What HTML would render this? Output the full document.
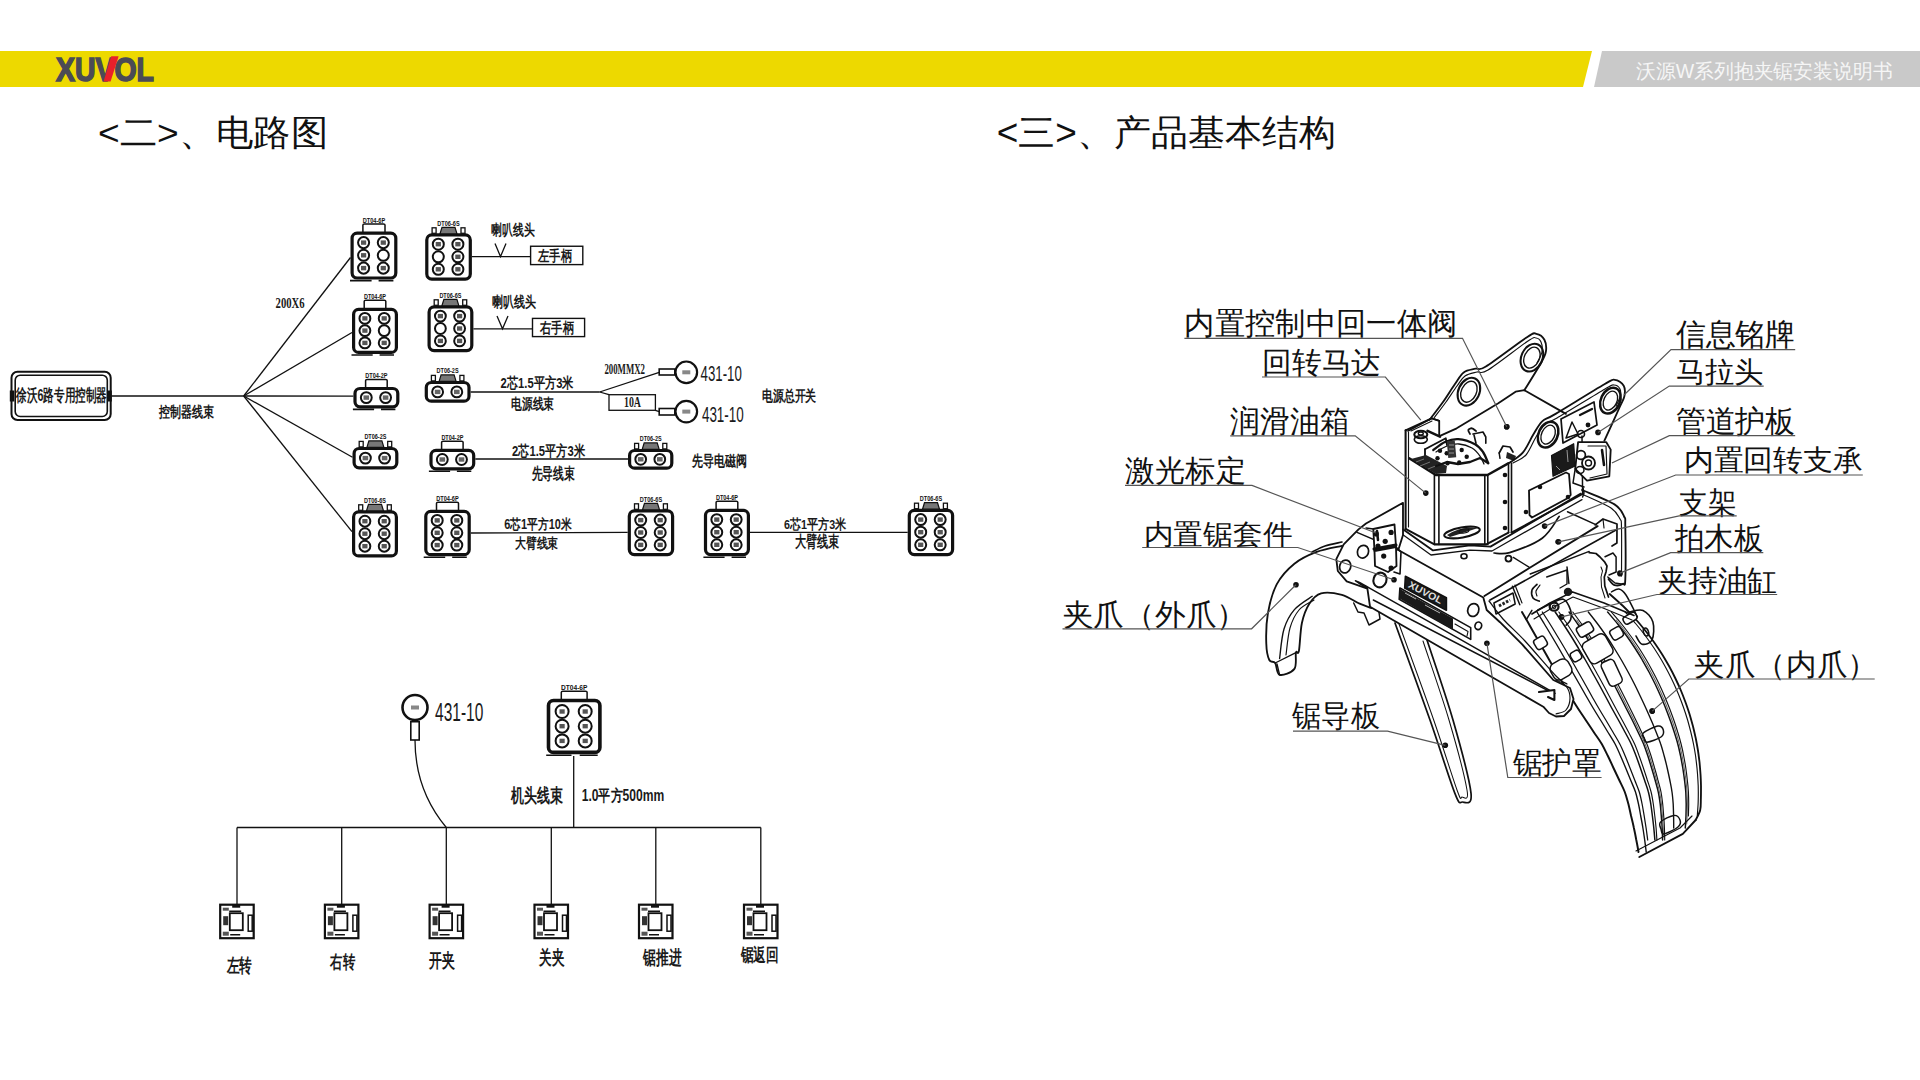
<!DOCTYPE html>
<html><head><meta charset="utf-8">
<style>
html,body{margin:0;padding:0;background:#fff;}
body{width:1920px;height:1080px;overflow:hidden;position:relative;font-family:"Liberation Sans",sans-serif;}
svg{position:absolute;left:0;top:0;}
.d{font-family:"Liberation Sans",sans-serif;font-weight:bold;fill:#1a1a1a;}
.lab{font-family:"Liberation Sans",sans-serif;font-weight:bold;fill:#111;}
.s{font-family:"Liberation Serif",serif;font-weight:bold;fill:#1a1a1a;}
.m{font-family:"Liberation Sans",sans-serif;fill:#1a1a1a;}
.h{font-family:"Liberation Sans",sans-serif;fill:#111;font-weight:350;}
.w{font-family:"Liberation Sans",sans-serif;fill:#f6f6f6;font-weight:300;}
.l{font-family:"Liberation Sans",sans-serif;fill:#111;font-weight:300;}
</style></head><body>
<svg width="1920" height="1080" viewBox="0 0 1920 1080">

<path d="M0 51 H1592 L1583 87 H0 Z" fill="#EDD900"/>
<path d="M1602 51 H1920 V87 H1594 Z" fill="#C9C9C9"/>
<text x="56" y="80.6" font-family="Liberation Sans" font-weight="bold" font-size="34" fill="#4b4b55" stroke="#4b4b55" stroke-width="1.6" textLength="98" lengthAdjust="spacingAndGlyphs">XUVOL</text>
<path d="M111.2 56.2 L118.6 56.2 L110.6 81.4 L103.6 81.4 Z" fill="#E8202A"/>
<text class="w" x="1636.0" y="78.1" font-size="19.7" textLength="256.5" lengthAdjust="spacingAndGlyphs" >沃源W系列抱夹锯安装说明书</text>
<text class="h" x="98.0" y="145.4" font-size="35.8" textLength="230.0" lengthAdjust="spacingAndGlyphs" >&lt;二&gt;、电路图</text>
<text class="h" x="996.8" y="145.3" font-size="36.0" textLength="338.7" lengthAdjust="spacingAndGlyphs" >&lt;三&gt;、产品基本结构</text>
<rect x="11.5" y="371.8" width="99.2" height="48.2" rx="6" fill="#fff" stroke="#111" stroke-width="2"/>
<rect x="15.2" y="375.2" width="92.1" height="41.3" rx="5" fill="#fff" stroke="#111" stroke-width="1.6"/>
<rect x="9.8" y="390.5" width="4.5" height="11" fill="#111"/><rect x="107.3" y="390.5" width="4.5" height="11" fill="#111"/>
<text class="d" x="16.2" y="401.0" font-size="17.0" textLength="90.8" lengthAdjust="spacingAndGlyphs" >徐沃6路专用控制器</text>
<path d="M111.5 396.0 L243.7 396.0" fill="none" stroke="#111" stroke-width="1.3"/>
<text class="d" x="159.0" y="417.1" font-size="15.1" textLength="55.0" lengthAdjust="spacingAndGlyphs" >控制器线束</text>
<path d="M243.7 396.0 L350.5 257.5" fill="none" stroke="#111" stroke-width="1.3"/>
<path d="M243.7 396.0 L352.0 332.5" fill="none" stroke="#111" stroke-width="1.3"/>
<path d="M243.7 396.0 L353.4 396.2" fill="none" stroke="#111" stroke-width="1.3"/>
<path d="M243.7 396.0 L352.5 457.2" fill="none" stroke="#111" stroke-width="1.3"/>
<path d="M243.7 396.0 L352.0 531.7" fill="none" stroke="#111" stroke-width="1.3"/>
<text class="s" x="275.6" y="308.2" font-size="14.0" textLength="29.1" lengthAdjust="spacingAndGlyphs" >200X6</text>
<rect x="352.1" y="233.1" width="43.7" height="44.9" rx="5" fill="#fff" stroke="#111" stroke-width="3.2"/>
<path d="M362.9 232.0 V225.0 Q362.9 224.0 364.4 224.0 H383.5 Q385.0 224.0 385.0 225.0 V232.0" fill="none" stroke="#111" stroke-width="1.5"/>
<path d="M350.0 280.6 H371.6 M378.6 280.6 H393.4" stroke="#111" stroke-width="1.6"/>
<text class="lab" x="373.9" y="222.5" text-anchor="middle" font-size="6.8" textLength="22.5" lengthAdjust="spacingAndGlyphs">DT04-6P</text>
<circle cx="363.6" cy="242.6" r="5.53" fill="#fff" stroke="#111" stroke-width="2"/>
<rect x="361.0" y="240.4" width="5.2" height="4.4" fill="#555"/>
<circle cx="383.3" cy="242.6" r="5.53" fill="#fff" stroke="#111" stroke-width="2"/>
<rect x="380.7" y="240.4" width="5.2" height="4.4" fill="#555"/>
<circle cx="363.6" cy="255.3" r="5.53" fill="#fff" stroke="#111" stroke-width="2"/>
<rect x="361.0" y="253.1" width="5.2" height="4.4" fill="#555"/>
<circle cx="383.3" cy="255.3" r="5.53" fill="#fff" stroke="#111" stroke-width="2"/>
<circle cx="363.6" cy="268.1" r="5.53" fill="#fff" stroke="#111" stroke-width="2"/>
<rect x="361.0" y="265.9" width="5.2" height="4.4" fill="#555"/>
<circle cx="383.3" cy="268.1" r="5.53" fill="#fff" stroke="#111" stroke-width="2"/>
<rect x="380.7" y="265.9" width="5.2" height="4.4" fill="#555"/>
<rect x="426.8" y="234.9" width="43.5" height="44.2" rx="5" fill="#fff" stroke="#111" stroke-width="3.2"/>
<rect x="432.1" y="227.8" width="4" height="5.5" fill="#fff" stroke="#111" stroke-width="1.3"/>
<rect x="461.0" y="227.8" width="4" height="5.5" fill="#fff" stroke="#111" stroke-width="1.3"/>
<path d="M440.0 233.8 L442.0 227.3 H455.0 L457.0 233.8 Z" fill="#777" stroke="#111" stroke-width="1.2"/>
<text class="lab" x="448.5" y="225.8" text-anchor="middle" font-size="6.8" textLength="22.4" lengthAdjust="spacingAndGlyphs">DT06-6S</text>
<circle cx="438.3" cy="244.2" r="5.51" fill="#fff" stroke="#111" stroke-width="2"/>
<rect x="435.7" y="242.0" width="5.2" height="4.4" fill="#555"/>
<circle cx="457.9" cy="244.2" r="5.51" fill="#fff" stroke="#111" stroke-width="2"/>
<rect x="455.3" y="242.0" width="5.2" height="4.4" fill="#555"/>
<circle cx="438.3" cy="256.8" r="5.51" fill="#fff" stroke="#111" stroke-width="2"/>
<circle cx="457.9" cy="256.8" r="5.51" fill="#fff" stroke="#111" stroke-width="2"/>
<rect x="455.3" y="254.6" width="5.2" height="4.4" fill="#555"/>
<circle cx="438.3" cy="269.3" r="5.51" fill="#fff" stroke="#111" stroke-width="2"/>
<rect x="435.7" y="267.1" width="5.2" height="4.4" fill="#555"/>
<circle cx="457.9" cy="269.3" r="5.51" fill="#fff" stroke="#111" stroke-width="2"/>
<rect x="455.3" y="267.1" width="5.2" height="4.4" fill="#555"/>
<rect x="353.6" y="309.4" width="42.8" height="43.0" rx="5" fill="#fff" stroke="#111" stroke-width="3.2"/>
<path d="M364.2 308.2 V301.2 Q364.2 300.2 365.7 300.2 H384.3 Q385.8 300.2 385.8 301.2 V308.2" fill="none" stroke="#111" stroke-width="1.5"/>
<path d="M351.5 355.0 H372.7 M379.6 355.0 H394.0" stroke="#111" stroke-width="1.6"/>
<text class="lab" x="375.0" y="298.8" text-anchor="middle" font-size="6.7" textLength="22.1" lengthAdjust="spacingAndGlyphs">DT04-6P</text>
<circle cx="364.9" cy="318.4" r="5.43" fill="#fff" stroke="#111" stroke-width="2"/>
<rect x="362.3" y="316.2" width="5.2" height="4.4" fill="#555"/>
<circle cx="384.2" cy="318.4" r="5.43" fill="#fff" stroke="#111" stroke-width="2"/>
<rect x="381.6" y="316.2" width="5.2" height="4.4" fill="#555"/>
<circle cx="364.9" cy="330.6" r="5.43" fill="#fff" stroke="#111" stroke-width="2"/>
<rect x="362.3" y="328.4" width="5.2" height="4.4" fill="#555"/>
<circle cx="384.2" cy="330.6" r="5.43" fill="#fff" stroke="#111" stroke-width="2"/>
<circle cx="364.9" cy="342.9" r="5.43" fill="#fff" stroke="#111" stroke-width="2"/>
<rect x="362.3" y="340.7" width="5.2" height="4.4" fill="#555"/>
<circle cx="384.2" cy="342.9" r="5.43" fill="#fff" stroke="#111" stroke-width="2"/>
<rect x="381.6" y="340.7" width="5.2" height="4.4" fill="#555"/>
<rect x="429.1" y="306.9" width="42.7" height="43.7" rx="5" fill="#fff" stroke="#111" stroke-width="3.2"/>
<rect x="434.2" y="299.8" width="4" height="5.5" fill="#fff" stroke="#111" stroke-width="1.3"/>
<rect x="462.7" y="299.8" width="4" height="5.5" fill="#fff" stroke="#111" stroke-width="1.3"/>
<path d="M441.9 305.8 L443.9 299.3 H456.9 L458.9 305.8 Z" fill="#777" stroke="#111" stroke-width="1.2"/>
<text class="lab" x="450.4" y="297.8" text-anchor="middle" font-size="6.7" textLength="22.0" lengthAdjust="spacingAndGlyphs">DT06-6S</text>
<circle cx="440.4" cy="316.1" r="5.42" fill="#fff" stroke="#111" stroke-width="2"/>
<rect x="437.8" y="313.9" width="5.2" height="4.4" fill="#555"/>
<circle cx="459.6" cy="316.1" r="5.42" fill="#fff" stroke="#111" stroke-width="2"/>
<rect x="457.0" y="313.9" width="5.2" height="4.4" fill="#555"/>
<circle cx="440.4" cy="328.5" r="5.42" fill="#fff" stroke="#111" stroke-width="2"/>
<circle cx="459.6" cy="328.5" r="5.42" fill="#fff" stroke="#111" stroke-width="2"/>
<rect x="457.0" y="326.3" width="5.2" height="4.4" fill="#555"/>
<circle cx="440.4" cy="340.9" r="5.42" fill="#fff" stroke="#111" stroke-width="2"/>
<rect x="437.8" y="338.7" width="5.2" height="4.4" fill="#555"/>
<circle cx="459.6" cy="340.9" r="5.42" fill="#fff" stroke="#111" stroke-width="2"/>
<rect x="457.0" y="338.7" width="5.2" height="4.4" fill="#555"/>
<rect x="355.0" y="388.5" width="42.8" height="18.3" rx="5" fill="#fff" stroke="#111" stroke-width="3.2"/>
<path d="M365.6 387.4 V380.4 Q365.6 379.4 367.1 379.4 H385.7 Q387.2 379.4 387.2 380.4 V387.4" fill="none" stroke="#111" stroke-width="1.5"/>
<path d="M352.9 409.4 H374.1 M381.0 409.4 H395.4" stroke="#111" stroke-width="1.6"/>
<text class="lab" x="376.4" y="377.9" text-anchor="middle" font-size="6.7" textLength="22.1" lengthAdjust="spacingAndGlyphs">DT04-2P</text>
<circle cx="366.3" cy="397.6" r="5.43" fill="#fff" stroke="#111" stroke-width="2"/>
<rect x="363.5" y="395.4" width="5.6" height="4.4" fill="#666"/>
<circle cx="385.6" cy="397.6" r="5.43" fill="#fff" stroke="#111" stroke-width="2"/>
<rect x="382.8" y="395.4" width="5.6" height="4.4" fill="#666"/>
<rect x="426.3" y="382.5" width="42.7" height="18.7" rx="5" fill="#fff" stroke="#111" stroke-width="3.2"/>
<rect x="431.4" y="375.4" width="4" height="5.5" fill="#fff" stroke="#111" stroke-width="1.3"/>
<rect x="459.9" y="375.4" width="4" height="5.5" fill="#fff" stroke="#111" stroke-width="1.3"/>
<path d="M439.1 381.4 L441.1 374.9 H454.1 L456.1 381.4 Z" fill="#777" stroke="#111" stroke-width="1.2"/>
<text class="lab" x="447.6" y="373.4" text-anchor="middle" font-size="6.7" textLength="22.0" lengthAdjust="spacingAndGlyphs">DT06-2S</text>
<circle cx="437.6" cy="391.9" r="5.42" fill="#fff" stroke="#111" stroke-width="2"/>
<rect x="434.8" y="389.7" width="5.6" height="4.4" fill="#666"/>
<circle cx="456.8" cy="391.9" r="5.42" fill="#fff" stroke="#111" stroke-width="2"/>
<rect x="454.0" y="389.7" width="5.6" height="4.4" fill="#666"/>
<rect x="354.1" y="448.5" width="42.7" height="19.3" rx="5" fill="#fff" stroke="#111" stroke-width="3.2"/>
<rect x="359.2" y="441.4" width="4" height="5.5" fill="#fff" stroke="#111" stroke-width="1.3"/>
<rect x="387.7" y="441.4" width="4" height="5.5" fill="#fff" stroke="#111" stroke-width="1.3"/>
<path d="M366.9 447.4 L368.9 440.9 H381.9 L383.9 447.4 Z" fill="#777" stroke="#111" stroke-width="1.2"/>
<text class="lab" x="375.4" y="439.4" text-anchor="middle" font-size="6.7" textLength="22.0" lengthAdjust="spacingAndGlyphs">DT06-2S</text>
<circle cx="365.4" cy="458.1" r="5.42" fill="#fff" stroke="#111" stroke-width="2"/>
<rect x="362.6" y="455.9" width="5.6" height="4.4" fill="#666"/>
<circle cx="384.6" cy="458.1" r="5.42" fill="#fff" stroke="#111" stroke-width="2"/>
<rect x="381.8" y="455.9" width="5.6" height="4.4" fill="#666"/>
<rect x="431.0" y="450.4" width="42.7" height="18.4" rx="5" fill="#fff" stroke="#111" stroke-width="3.2"/>
<path d="M441.6 449.2 V442.2 Q441.6 441.2 443.1 441.2 H461.6 Q463.1 441.2 463.1 442.2 V449.2" fill="none" stroke="#111" stroke-width="1.5"/>
<path d="M428.9 471.3 H450.1 M456.9 471.3 H471.3" stroke="#111" stroke-width="1.6"/>
<text class="lab" x="452.4" y="439.8" text-anchor="middle" font-size="6.7" textLength="22.0" lengthAdjust="spacingAndGlyphs">DT04-2P</text>
<circle cx="442.3" cy="459.5" r="5.42" fill="#fff" stroke="#111" stroke-width="2"/>
<rect x="439.5" y="457.3" width="5.6" height="4.4" fill="#666"/>
<circle cx="461.5" cy="459.5" r="5.42" fill="#fff" stroke="#111" stroke-width="2"/>
<rect x="458.7" y="457.3" width="5.6" height="4.4" fill="#666"/>
<rect x="629.6" y="450.5" width="42.2" height="17.7" rx="5" fill="#fff" stroke="#111" stroke-width="3.2"/>
<rect x="634.6" y="443.4" width="4" height="5.5" fill="#fff" stroke="#111" stroke-width="1.3"/>
<rect x="662.8" y="443.4" width="4" height="5.5" fill="#fff" stroke="#111" stroke-width="1.3"/>
<path d="M642.2 449.4 L644.2 442.9 H657.2 L659.2 449.4 Z" fill="#777" stroke="#111" stroke-width="1.2"/>
<text class="lab" x="650.7" y="441.4" text-anchor="middle" font-size="6.6" textLength="21.8" lengthAdjust="spacingAndGlyphs">DT06-2S</text>
<circle cx="640.7" cy="459.3" r="5.36" fill="#fff" stroke="#111" stroke-width="2"/>
<rect x="637.9" y="457.1" width="5.6" height="4.4" fill="#666"/>
<circle cx="659.8" cy="459.3" r="5.36" fill="#fff" stroke="#111" stroke-width="2"/>
<rect x="657.0" y="457.1" width="5.6" height="4.4" fill="#666"/>
<rect x="353.6" y="511.9" width="42.8" height="44.0" rx="5" fill="#fff" stroke="#111" stroke-width="3.2"/>
<rect x="358.7" y="504.8" width="4" height="5.5" fill="#fff" stroke="#111" stroke-width="1.3"/>
<rect x="387.3" y="504.8" width="4" height="5.5" fill="#fff" stroke="#111" stroke-width="1.3"/>
<path d="M366.5 510.8 L368.5 504.3 H381.5 L383.5 510.8 Z" fill="#777" stroke="#111" stroke-width="1.2"/>
<text class="lab" x="375.0" y="502.8" text-anchor="middle" font-size="6.7" textLength="22.1" lengthAdjust="spacingAndGlyphs">DT06-6S</text>
<circle cx="364.9" cy="521.2" r="5.43" fill="#fff" stroke="#111" stroke-width="2"/>
<rect x="362.3" y="519.0" width="5.2" height="4.4" fill="#555"/>
<circle cx="384.2" cy="521.2" r="5.43" fill="#fff" stroke="#111" stroke-width="2"/>
<rect x="381.6" y="519.0" width="5.2" height="4.4" fill="#555"/>
<circle cx="364.9" cy="533.7" r="5.43" fill="#fff" stroke="#111" stroke-width="2"/>
<rect x="362.3" y="531.5" width="5.2" height="4.4" fill="#555"/>
<circle cx="384.2" cy="533.7" r="5.43" fill="#fff" stroke="#111" stroke-width="2"/>
<rect x="381.6" y="531.5" width="5.2" height="4.4" fill="#555"/>
<circle cx="364.9" cy="546.2" r="5.43" fill="#fff" stroke="#111" stroke-width="2"/>
<rect x="362.3" y="544.0" width="5.2" height="4.4" fill="#555"/>
<circle cx="384.2" cy="546.2" r="5.43" fill="#fff" stroke="#111" stroke-width="2"/>
<rect x="381.6" y="544.0" width="5.2" height="4.4" fill="#555"/>
<rect x="425.8" y="511.3" width="43.4" height="43.4" rx="5" fill="#fff" stroke="#111" stroke-width="3.2"/>
<path d="M436.5 510.2 V503.2 Q436.5 502.2 438.0 502.2 H457.0 Q458.5 502.2 458.5 503.2 V510.2" fill="none" stroke="#111" stroke-width="1.5"/>
<path d="M423.7 557.3 H445.2 M452.2 557.3 H466.8" stroke="#111" stroke-width="1.6"/>
<text class="lab" x="447.5" y="500.7" text-anchor="middle" font-size="6.8" textLength="22.4" lengthAdjust="spacingAndGlyphs">DT04-6P</text>
<circle cx="437.2" cy="520.4" r="5.50" fill="#fff" stroke="#111" stroke-width="2"/>
<rect x="434.6" y="518.2" width="5.2" height="4.4" fill="#555"/>
<circle cx="456.8" cy="520.4" r="5.50" fill="#fff" stroke="#111" stroke-width="2"/>
<rect x="454.2" y="518.2" width="5.2" height="4.4" fill="#555"/>
<circle cx="437.2" cy="532.8" r="5.50" fill="#fff" stroke="#111" stroke-width="2"/>
<rect x="434.6" y="530.6" width="5.2" height="4.4" fill="#555"/>
<circle cx="456.8" cy="532.8" r="5.50" fill="#fff" stroke="#111" stroke-width="2"/>
<rect x="454.2" y="530.6" width="5.2" height="4.4" fill="#555"/>
<circle cx="437.2" cy="545.1" r="5.50" fill="#fff" stroke="#111" stroke-width="2"/>
<rect x="434.6" y="542.9" width="5.2" height="4.4" fill="#555"/>
<circle cx="456.8" cy="545.1" r="5.50" fill="#fff" stroke="#111" stroke-width="2"/>
<rect x="454.2" y="542.9" width="5.2" height="4.4" fill="#555"/>
<rect x="629.3" y="510.9" width="43.3" height="43.7" rx="5" fill="#fff" stroke="#111" stroke-width="3.2"/>
<rect x="634.5" y="503.8" width="4" height="5.5" fill="#fff" stroke="#111" stroke-width="1.3"/>
<rect x="663.4" y="503.8" width="4" height="5.5" fill="#fff" stroke="#111" stroke-width="1.3"/>
<path d="M642.5 509.8 L644.5 503.3 H657.5 L659.5 509.8 Z" fill="#777" stroke="#111" stroke-width="1.2"/>
<text class="lab" x="651.0" y="501.8" text-anchor="middle" font-size="6.7" textLength="22.3" lengthAdjust="spacingAndGlyphs">DT06-6S</text>
<circle cx="640.7" cy="520.1" r="5.49" fill="#fff" stroke="#111" stroke-width="2"/>
<rect x="638.1" y="517.9" width="5.2" height="4.4" fill="#555"/>
<circle cx="660.2" cy="520.1" r="5.49" fill="#fff" stroke="#111" stroke-width="2"/>
<rect x="657.6" y="517.9" width="5.2" height="4.4" fill="#555"/>
<circle cx="640.7" cy="532.5" r="5.49" fill="#fff" stroke="#111" stroke-width="2"/>
<rect x="638.1" y="530.3" width="5.2" height="4.4" fill="#555"/>
<circle cx="660.2" cy="532.5" r="5.49" fill="#fff" stroke="#111" stroke-width="2"/>
<rect x="657.6" y="530.3" width="5.2" height="4.4" fill="#555"/>
<circle cx="640.7" cy="544.9" r="5.49" fill="#fff" stroke="#111" stroke-width="2"/>
<rect x="638.1" y="542.7" width="5.2" height="4.4" fill="#555"/>
<circle cx="660.2" cy="544.9" r="5.49" fill="#fff" stroke="#111" stroke-width="2"/>
<rect x="657.6" y="542.7" width="5.2" height="4.4" fill="#555"/>
<rect x="705.5" y="510.3" width="42.9" height="44.3" rx="5" fill="#fff" stroke="#111" stroke-width="3.2"/>
<path d="M716.1 509.2 V502.2 Q716.1 501.2 717.6 501.2 H736.3 Q737.8 501.2 737.8 502.2 V509.2" fill="none" stroke="#111" stroke-width="1.5"/>
<path d="M703.4 557.2 H724.6 M731.6 557.2 H746.0" stroke="#111" stroke-width="1.6"/>
<text class="lab" x="727.0" y="499.7" text-anchor="middle" font-size="6.7" textLength="22.1" lengthAdjust="spacingAndGlyphs">DT04-6P</text>
<circle cx="716.8" cy="519.6" r="5.44" fill="#fff" stroke="#111" stroke-width="2"/>
<rect x="714.2" y="517.4" width="5.2" height="4.4" fill="#555"/>
<circle cx="736.2" cy="519.6" r="5.44" fill="#fff" stroke="#111" stroke-width="2"/>
<rect x="733.6" y="517.4" width="5.2" height="4.4" fill="#555"/>
<circle cx="716.8" cy="532.2" r="5.44" fill="#fff" stroke="#111" stroke-width="2"/>
<rect x="714.2" y="530.0" width="5.2" height="4.4" fill="#555"/>
<circle cx="736.2" cy="532.2" r="5.44" fill="#fff" stroke="#111" stroke-width="2"/>
<rect x="733.6" y="530.0" width="5.2" height="4.4" fill="#555"/>
<circle cx="716.8" cy="544.8" r="5.44" fill="#fff" stroke="#111" stroke-width="2"/>
<rect x="714.2" y="542.6" width="5.2" height="4.4" fill="#555"/>
<circle cx="736.2" cy="544.8" r="5.44" fill="#fff" stroke="#111" stroke-width="2"/>
<rect x="733.6" y="542.6" width="5.2" height="4.4" fill="#555"/>
<rect x="909.3" y="510.3" width="43.3" height="44.3" rx="5" fill="#fff" stroke="#111" stroke-width="3.2"/>
<rect x="914.5" y="503.2" width="4" height="5.5" fill="#fff" stroke="#111" stroke-width="1.3"/>
<rect x="943.4" y="503.2" width="4" height="5.5" fill="#fff" stroke="#111" stroke-width="1.3"/>
<path d="M922.5 509.2 L924.5 502.7 H937.5 L939.5 509.2 Z" fill="#777" stroke="#111" stroke-width="1.2"/>
<text class="lab" x="931.0" y="501.2" text-anchor="middle" font-size="6.7" textLength="22.3" lengthAdjust="spacingAndGlyphs">DT06-6S</text>
<circle cx="920.7" cy="519.6" r="5.49" fill="#fff" stroke="#111" stroke-width="2"/>
<rect x="918.1" y="517.4" width="5.2" height="4.4" fill="#555"/>
<circle cx="940.2" cy="519.6" r="5.49" fill="#fff" stroke="#111" stroke-width="2"/>
<rect x="937.6" y="517.4" width="5.2" height="4.4" fill="#555"/>
<circle cx="920.7" cy="532.2" r="5.49" fill="#fff" stroke="#111" stroke-width="2"/>
<rect x="918.1" y="530.0" width="5.2" height="4.4" fill="#555"/>
<circle cx="940.2" cy="532.2" r="5.49" fill="#fff" stroke="#111" stroke-width="2"/>
<rect x="937.6" y="530.0" width="5.2" height="4.4" fill="#555"/>
<circle cx="920.7" cy="544.8" r="5.49" fill="#fff" stroke="#111" stroke-width="2"/>
<rect x="918.1" y="542.6" width="5.2" height="4.4" fill="#555"/>
<circle cx="940.2" cy="544.8" r="5.49" fill="#fff" stroke="#111" stroke-width="2"/>
<rect x="937.6" y="542.6" width="5.2" height="4.4" fill="#555"/>
<rect x="548.5" y="700.5" width="51.4" height="51.9" rx="5" fill="#fff" stroke="#111" stroke-width="3.6"/>
<path d="M561.3 699.2 V692.2 Q561.3 691.2 562.8 691.2 H585.6 Q587.1 691.2 587.1 692.2 V699.2" fill="none" stroke="#111" stroke-width="1.5"/>
<path d="M546.2 755.2 H571.5 M579.7 755.2 H597.7" stroke="#111" stroke-width="1.6"/>
<text class="lab" x="574.2" y="689.7" text-anchor="middle" font-size="8.0" textLength="26.4" lengthAdjust="spacingAndGlyphs">DT04-6P</text>
<circle cx="562.1" cy="711.5" r="6.49" fill="#fff" stroke="#111" stroke-width="2"/>
<rect x="559.5" y="709.3" width="5.2" height="4.4" fill="#555"/>
<circle cx="585.2" cy="711.5" r="6.49" fill="#fff" stroke="#111" stroke-width="2"/>
<rect x="582.6" y="709.3" width="5.2" height="4.4" fill="#555"/>
<circle cx="562.1" cy="726.2" r="6.49" fill="#fff" stroke="#111" stroke-width="2"/>
<rect x="559.5" y="724.0" width="5.2" height="4.4" fill="#555"/>
<circle cx="585.2" cy="726.2" r="6.49" fill="#fff" stroke="#111" stroke-width="2"/>
<rect x="582.6" y="724.0" width="5.2" height="4.4" fill="#555"/>
<circle cx="562.1" cy="740.9" r="6.49" fill="#fff" stroke="#111" stroke-width="2"/>
<rect x="559.5" y="738.7" width="5.2" height="4.4" fill="#555"/>
<circle cx="585.2" cy="740.9" r="6.49" fill="#fff" stroke="#111" stroke-width="2"/>
<rect x="582.6" y="738.7" width="5.2" height="4.4" fill="#555"/>
<path d="M471.9 256.6 L530.6 256.6" fill="none" stroke="#111" stroke-width="1.3"/>
<path d="M495.0 243.4 L500.5 256.6 L506.0 243.4" fill="none" stroke="#111" stroke-width="1.3"/>
<rect x="530.6" y="246.25" width="52.2" height="18.35" fill="#fff" stroke="#111" stroke-width="1.4"/>
<text class="d" x="538.0" y="261.1" font-size="14.8" textLength="34.0" lengthAdjust="spacingAndGlyphs" >左手柄</text>
<text class="d" x="491.0" y="235.1" font-size="15.0" textLength="43.4" lengthAdjust="spacingAndGlyphs" >喇叭线头</text>
<path d="M473.4 328.8 L532.5 328.8" fill="none" stroke="#111" stroke-width="1.3"/>
<path d="M497.0 316.0 L502.5 328.8 L508.0 316.0" fill="none" stroke="#111" stroke-width="1.3"/>
<rect x="532.5" y="318.4" width="52.1" height="18.2" fill="#fff" stroke="#111" stroke-width="1.4"/>
<text class="d" x="540.0" y="333.1" font-size="14.8" textLength="34.0" lengthAdjust="spacingAndGlyphs" >右手柄</text>
<text class="d" x="492.0" y="307.1" font-size="15.2" textLength="44.0" lengthAdjust="spacingAndGlyphs" >喇叭线头</text>
<path d="M470.6 392.0 L599.6 392.0" fill="none" stroke="#111" stroke-width="1.3"/>
<path d="M599.6 392.0 L659.2 372.3" fill="none" stroke="#111" stroke-width="1.3"/>
<path d="M599.6 392.0 L609.0 394.7" fill="none" stroke="#111" stroke-width="1.3"/>
<rect x="609" y="394.7" width="46.4" height="15.6" fill="#fff" stroke="#111" stroke-width="1.3"/>
<path d="M655.4 410.3 L659.2 411.6" fill="none" stroke="#111" stroke-width="1.3"/>
<circle cx="686.3" cy="372.3" r="10.8" fill="#fff" stroke="#111" stroke-width="2.2"/>
<rect x="659.2" y="369" width="15.6" height="6.0" fill="#fff" stroke="#111" stroke-width="1.6"/>
<rect x="682.3" y="370.3" width="8" height="4" fill="#888"/>
<circle cx="686.3" cy="411.6" r="10.8" fill="#fff" stroke="#111" stroke-width="2.2"/>
<rect x="659.2" y="408.5" width="15.6" height="6.5" fill="#fff" stroke="#111" stroke-width="1.6"/>
<rect x="682.3" y="409.6" width="8" height="4" fill="#888"/>
<text class="d" x="500.6" y="387.9" font-size="14.9" textLength="73.1" lengthAdjust="spacingAndGlyphs" >2芯1.5平方3米</text>
<text class="d" x="511.0" y="408.5" font-size="14.9" textLength="43.0" lengthAdjust="spacingAndGlyphs" >电源线束</text>
<text class="s" x="604.4" y="374.2" font-size="14.0" textLength="40.6" lengthAdjust="spacingAndGlyphs" >200MMX2</text>
<text class="s" x="624.0" y="407.4" font-size="14.0" textLength="17.0" lengthAdjust="spacingAndGlyphs" >10A</text>
<text class="m" x="700.5" y="380.5" font-size="22.0" textLength="41.3" lengthAdjust="spacingAndGlyphs" >431-10</text>
<text class="m" x="701.9" y="421.7" font-size="22.0" textLength="41.9" lengthAdjust="spacingAndGlyphs" >431-10</text>
<text class="d" x="762.0" y="400.6" font-size="15.3" textLength="54.3" lengthAdjust="spacingAndGlyphs" >电源总开关</text>
<path d="M475.3 459.0 L628.0 459.0" fill="none" stroke="#111" stroke-width="1.3"/>
<text class="d" x="512.0" y="456.3" font-size="15.0" textLength="73.0" lengthAdjust="spacingAndGlyphs" >2芯1.5平方3米</text>
<text class="d" x="531.6" y="478.7" font-size="16.0" textLength="43.1" lengthAdjust="spacingAndGlyphs" >先导线束</text>
<text class="d" x="692.4" y="465.6" font-size="15.3" textLength="54.8" lengthAdjust="spacingAndGlyphs" >先导电磁阀</text>
<path d="M470.8 533.0 L627.7 532.4" fill="none" stroke="#111" stroke-width="1.3"/>
<path d="M750.0 532.4 L907.7 532.4" fill="none" stroke="#111" stroke-width="1.3"/>
<text class="d" x="504.2" y="529.1" font-size="14.2" textLength="67.5" lengthAdjust="spacingAndGlyphs" >6芯1平方10米</text>
<text class="d" x="515.0" y="548.3" font-size="14.2" textLength="43.3" lengthAdjust="spacingAndGlyphs" >大臂线束</text>
<text class="d" x="784.0" y="528.7" font-size="13.5" textLength="62.4" lengthAdjust="spacingAndGlyphs" >6芯1平方3米</text>
<text class="d" x="795.0" y="547.4" font-size="15.8" textLength="44.5" lengthAdjust="spacingAndGlyphs" >大臂线束</text>
<path d="M415 740 Q415 790 446.3 827.5" fill="none" stroke="#111" stroke-width="1.3"/>
<circle cx="415" cy="707.5" r="12.5" fill="#fff" stroke="#111" stroke-width="2.6"/>
<rect x="410.8" y="721.7" width="8.4" height="18.3" fill="#fff" stroke="#111" stroke-width="1.6"/>
<rect x="411" y="705.5" width="8" height="4" fill="#888"/>
<text class="m" x="435.0" y="721.0" font-size="25.0" textLength="48.3" lengthAdjust="spacingAndGlyphs" >431-10</text>
<path d="M573.7 756.0 L573.7 827.5" fill="none" stroke="#111" stroke-width="1.3"/>
<text class="d" x="510.8" y="802.2" font-size="18.9" textLength="51.7" lengthAdjust="spacingAndGlyphs" >机头线束</text>
<text class="d" x="581.7" y="800.7" font-size="16.1" textLength="82.5" lengthAdjust="spacingAndGlyphs" >1.0平方500mm</text>
<path d="M237.0 827.5 L760.8 827.5" fill="none" stroke="#111" stroke-width="1.3"/>
<path d="M237.0 827.5 L237.0 904.0" fill="none" stroke="#111" stroke-width="1.3"/>
<rect x="220.2" y="904.7" width="33.5" height="33.5" fill="#fff" stroke="#111" stroke-width="2.2"/>
<rect x="229.8" y="913.2" width="13" height="17" fill="#fff" stroke="#111" stroke-width="1.8"/>
<rect x="223.2" y="916.2" width="5" height="9" fill="#333"/>
<rect x="248.2" y="915.2" width="4" height="16" fill="#fff" stroke="#111" stroke-width="1.5"/>
<rect x="232.2" y="904.7" width="8" height="3" fill="#111"/>
<path d="M229.2 911.2 H241.2 M230.2 934.7 H240.2" stroke="#111" stroke-width="1.4"/>
<rect x="222.8" y="907.7" width="6" height="3" fill="#555"/>
<rect x="222.8" y="931.7" width="6" height="4" fill="#555"/>
<path d="M341.7 827.5 L341.7 904.0" fill="none" stroke="#111" stroke-width="1.3"/>
<rect x="324.9" y="904.7" width="33.5" height="33.5" fill="#fff" stroke="#111" stroke-width="2.2"/>
<rect x="334.4" y="913.2" width="13" height="17" fill="#fff" stroke="#111" stroke-width="1.8"/>
<rect x="327.9" y="916.2" width="5" height="9" fill="#333"/>
<rect x="352.9" y="915.2" width="4" height="16" fill="#fff" stroke="#111" stroke-width="1.5"/>
<rect x="336.9" y="904.7" width="8" height="3" fill="#111"/>
<path d="M333.9 911.2 H345.9 M334.9 934.7 H344.9" stroke="#111" stroke-width="1.4"/>
<rect x="327.4" y="907.7" width="6" height="3" fill="#555"/>
<rect x="327.4" y="931.7" width="6" height="4" fill="#555"/>
<path d="M446.3 827.5 L446.3 904.0" fill="none" stroke="#111" stroke-width="1.3"/>
<rect x="429.6" y="904.7" width="33.5" height="33.5" fill="#fff" stroke="#111" stroke-width="2.2"/>
<rect x="439.1" y="913.2" width="13" height="17" fill="#fff" stroke="#111" stroke-width="1.8"/>
<rect x="432.6" y="916.2" width="5" height="9" fill="#333"/>
<rect x="457.6" y="915.2" width="4" height="16" fill="#fff" stroke="#111" stroke-width="1.5"/>
<rect x="441.6" y="904.7" width="8" height="3" fill="#111"/>
<path d="M438.6 911.2 H450.6 M439.6 934.7 H449.6" stroke="#111" stroke-width="1.4"/>
<rect x="432.1" y="907.7" width="6" height="3" fill="#555"/>
<rect x="432.1" y="931.7" width="6" height="4" fill="#555"/>
<path d="M551.3 827.5 L551.3 904.0" fill="none" stroke="#111" stroke-width="1.3"/>
<rect x="534.5" y="904.7" width="33.5" height="33.5" fill="#fff" stroke="#111" stroke-width="2.2"/>
<rect x="544.0" y="913.2" width="13" height="17" fill="#fff" stroke="#111" stroke-width="1.8"/>
<rect x="537.5" y="916.2" width="5" height="9" fill="#333"/>
<rect x="562.5" y="915.2" width="4" height="16" fill="#fff" stroke="#111" stroke-width="1.5"/>
<rect x="546.5" y="904.7" width="8" height="3" fill="#111"/>
<path d="M543.5 911.2 H555.5 M544.5 934.7 H554.5" stroke="#111" stroke-width="1.4"/>
<rect x="537.0" y="907.7" width="6" height="3" fill="#555"/>
<rect x="537.0" y="931.7" width="6" height="4" fill="#555"/>
<path d="M655.8 827.5 L655.8 904.0" fill="none" stroke="#111" stroke-width="1.3"/>
<rect x="639.0" y="904.7" width="33.5" height="33.5" fill="#fff" stroke="#111" stroke-width="2.2"/>
<rect x="648.5" y="913.2" width="13" height="17" fill="#fff" stroke="#111" stroke-width="1.8"/>
<rect x="642.0" y="916.2" width="5" height="9" fill="#333"/>
<rect x="667.0" y="915.2" width="4" height="16" fill="#fff" stroke="#111" stroke-width="1.5"/>
<rect x="651.0" y="904.7" width="8" height="3" fill="#111"/>
<path d="M648.0 911.2 H660.0 M649.0 934.7 H659.0" stroke="#111" stroke-width="1.4"/>
<rect x="641.5" y="907.7" width="6" height="3" fill="#555"/>
<rect x="641.5" y="931.7" width="6" height="4" fill="#555"/>
<path d="M760.8 827.5 L760.8 904.0" fill="none" stroke="#111" stroke-width="1.3"/>
<rect x="744.0" y="904.7" width="33.5" height="33.5" fill="#fff" stroke="#111" stroke-width="2.2"/>
<rect x="753.5" y="913.2" width="13" height="17" fill="#fff" stroke="#111" stroke-width="1.8"/>
<rect x="747.0" y="916.2" width="5" height="9" fill="#333"/>
<rect x="772.0" y="915.2" width="4" height="16" fill="#fff" stroke="#111" stroke-width="1.5"/>
<rect x="756.0" y="904.7" width="8" height="3" fill="#111"/>
<path d="M753.0 911.2 H765.0 M754.0 934.7 H764.0" stroke="#111" stroke-width="1.4"/>
<rect x="746.5" y="907.7" width="6" height="3" fill="#555"/>
<rect x="746.5" y="931.7" width="6" height="4" fill="#555"/>
<text class="d" x="226.7" y="972.2" font-size="18.9" textLength="25.3" lengthAdjust="spacingAndGlyphs" >左转</text>
<text class="d" x="330.3" y="968.1" font-size="18.1" textLength="24.7" lengthAdjust="spacingAndGlyphs" >右转</text>
<text class="d" x="429.0" y="967.2" font-size="18.9" textLength="25.7" lengthAdjust="spacingAndGlyphs" >开夹</text>
<text class="d" x="539.2" y="963.9" font-size="19.0" textLength="25.0" lengthAdjust="spacingAndGlyphs" >关夹</text>
<text class="d" x="643.0" y="963.9" font-size="19.0" textLength="38.3" lengthAdjust="spacingAndGlyphs" >锯推进</text>
<text class="d" x="740.8" y="960.9" font-size="18.4" textLength="37.9" lengthAdjust="spacingAndGlyphs" >锯返回</text>
<g id="machine">
<path d="M1341.9 545.9 C1337.7 546.9 1324.6 548.9 1316.7 551.9 C1308.8 554.9 1301.1 558.3 1294.4 563.7 C1287.7 569.1 1281.1 576.0 1276.7 584.4 C1272.3 592.8 1269.5 604.1 1267.8 614.0 C1266.1 623.9 1266.0 636.0 1266.3 643.7 C1266.5 651.4 1267.8 656.8 1269.3 660.0 C1270.8 663.2 1273.5 660.5 1275.2 663.0 C1276.9 665.5 1276.4 673.8 1279.6 674.8 C1282.8 675.8 1291.7 672.6 1294.4 668.9 C1297.1 665.2 1295.2 655.6 1295.9 652.6 C1296.7 649.6 1297.9 656.0 1298.9 651.1 C1299.9 646.2 1300.2 630.9 1301.9 623.0 C1303.6 615.1 1306.1 608.7 1309.3 603.7 C1312.5 598.8 1315.7 594.8 1321.1 593.3 C1326.5 591.8 1335.5 593.1 1341.9 594.8 C1348.3 596.5 1354.7 601.5 1359.6 603.7 C1364.5 605.9 1369.5 607.4 1371.5 608.1" fill="#fff" stroke="#111" stroke-width="1.84" stroke-linejoin="round" stroke-linecap="round"/>
<path d="M1279.6 658.5 C1280.3 653.6 1281.5 637.1 1284.0 629.0 C1286.5 620.9 1289.7 615.1 1294.4 609.6 C1299.1 604.1 1309.2 598.5 1312.2 596.3" fill="none" stroke="#111" stroke-width="1.38" stroke-linejoin="round" stroke-linecap="round"/>
<path d="M1286.0 655.0 C1286.7 650.5 1287.8 635.5 1290.0 628.0 C1292.2 620.5 1295.0 614.7 1299.0 610.0 C1303.0 605.3 1311.5 601.7 1314.0 600.0" fill="none" stroke="#111" stroke-width="1.15" stroke-linejoin="round" stroke-linecap="round"/>
<path d="M1312.0 552.0 C1314.2 551.0 1320.0 547.7 1325.0 546.0 C1330.0 544.3 1339.2 542.7 1342.0 542.0" fill="none" stroke="#111" stroke-width="1.61" stroke-linejoin="round" stroke-linecap="round"/>
<path d="M1275.2 663.0 L1295.9 652.6" fill="none" stroke="#111" stroke-width="1.38" stroke-linejoin="round" stroke-linecap="round"/>
<path d="M1279.6 674.8 L1277.0 664.0" fill="none" stroke="#111" stroke-width="1.38" stroke-linejoin="round" stroke-linecap="round"/>
<path d="M1353.7 603.0 L1358.0 612.0 L1364.0 613.0 L1369.0 625.0 L1380.0 619.0 L1378.0 606.0" fill="none" stroke="#111" stroke-width="1.49" stroke-linejoin="round" stroke-linecap="round"/>
<path d="M1395.0 623.0 C1400.8 639.2 1420.0 691.6 1430.0 720.0 C1440.0 748.4 1449.4 779.4 1454.8 793.1 C1460.2 806.8 1459.5 802.0 1462.2 802.0 C1464.9 802.0 1472.5 806.8 1471.0 793.1 C1469.5 779.4 1460.3 745.5 1453.0 720.0 C1445.7 694.5 1431.3 653.3 1427.0 640.0" fill="none" stroke="#111" stroke-width="1.72" stroke-linejoin="round" stroke-linecap="round"/>
<path d="M1399.0 624.0 C1404.7 639.7 1423.3 690.3 1433.0 718.0 C1442.7 745.7 1452.2 776.8 1457.0 790.0 C1461.8 803.2 1460.3 797.0 1462.0 797.0 C1463.7 797.0 1469.2 802.8 1467.0 790.0 C1464.8 777.2 1456.3 744.8 1449.0 720.0 C1441.7 695.2 1427.3 654.2 1423.0 641.0" fill="none" stroke="#111" stroke-width="1.03" stroke-linejoin="round" stroke-linecap="round"/>
<path d="M1514.0 600.0 L1519.3 608.0 L1524.3 616.0 L1528.9 624.0 L1533.4 632.0 L1538.0 640.0 L1542.5 648.0 L1547.1 656.0 L1551.6 664.0 L1556.2 672.0 L1560.9 680.0 L1565.6 688.0 L1570.3 696.0 L1575.0 704.0 L1580.4 712.0 L1585.7 720.0 L1591.1 728.0 L1596.4 736.0 L1601.8 744.0 L1606.0 752.0 L1609.8 760.0 L1613.5 768.0 L1617.3 776.0 L1621.1 784.0 L1624.8 792.0 L1627.5 800.0 L1629.3 808.0 L1631.1 816.0 L1633.0 824.0 L1634.8 832.0 L1636.3 840.0 L1637.8 848.0 L1639.3 856.0 L1639.3 857.0 L1682.8 833.9 L1695.7 820.0 L1699.2 820.0 L1700.1 812.0 L1700.6 804.0 L1700.9 796.0 L1701.0 788.0 L1700.8 780.0 L1700.4 772.0 L1699.7 764.0 L1698.7 756.0 L1697.5 748.0 L1696.1 740.0 L1694.3 732.0 L1692.3 724.0 L1690.1 716.0 L1687.5 708.0 L1684.7 700.0 L1681.5 692.0 L1678.0 684.0 L1674.2 676.0 L1670.1 668.0 L1665.5 660.0 L1660.6 652.0 L1655.3 644.0 L1649.5 636.0 L1643.2 628.0 L1636.4 620.0 L1629.0 612.0 L1620.9 604.0 L1612.0 596.0 Z" fill="#fff"/>
<path d="M1522.0 612.0 C1523.1 614.0 1526.6 620.0 1528.9 624.0 C1531.1 628.0 1533.4 632.0 1535.7 636.0 C1538.0 640.0 1540.3 644.0 1542.5 648.0 C1544.8 652.0 1547.1 656.0 1549.3 660.0 C1551.6 664.0 1553.9 668.0 1556.2 672.0 C1558.5 676.0 1560.9 680.0 1563.2 684.0 C1565.6 688.0 1567.9 692.0 1570.3 696.0 C1572.7 700.0 1575.1 704.0 1577.7 708.0 C1580.3 712.0 1583.1 716.0 1585.7 720.0 C1588.4 724.0 1591.1 728.0 1593.7 732.0 C1596.4 736.0 1599.4 740.0 1601.8 744.0 C1604.1 748.0 1605.9 752.0 1607.9 756.0 C1609.9 760.0 1611.7 764.0 1613.5 768.0 C1615.4 772.0 1617.3 776.0 1619.2 780.0 C1621.1 784.0 1623.3 788.0 1624.8 792.0 C1626.3 796.0 1627.3 800.0 1628.4 804.0 C1629.4 808.0 1630.2 812.0 1631.1 816.0 C1632.1 820.0 1633.1 824.0 1633.9 828.0 C1634.8 832.0 1635.6 836.0 1636.3 840.0 C1637.1 844.0 1638.2 850.0 1638.5 852.0" fill="none" stroke="#111" stroke-width="1.95" stroke-linejoin="round" stroke-linecap="round"/>
<path d="M1537.0 612.0 C1538.2 614.0 1542.0 620.0 1544.4 624.0 C1546.8 628.0 1549.3 632.0 1551.6 636.0 C1554.0 640.0 1556.4 644.0 1558.7 648.0 C1561.0 652.0 1563.3 656.0 1565.6 660.0 C1567.9 664.0 1570.1 668.0 1572.4 672.0 C1574.7 676.0 1577.0 680.0 1579.3 684.0 C1581.6 688.0 1583.8 692.0 1586.1 696.0 C1588.4 700.0 1590.7 704.0 1593.1 708.0 C1595.5 712.0 1598.0 716.0 1600.5 720.0 C1603.0 724.0 1605.4 728.0 1607.8 732.0 C1610.3 736.0 1612.9 740.0 1615.1 744.0 C1617.2 748.0 1618.9 752.0 1620.6 756.0 C1622.4 760.0 1624.0 764.0 1625.7 768.0 C1627.3 772.0 1629.0 776.0 1630.6 780.0 C1632.2 784.0 1634.2 788.0 1635.5 792.0 C1636.8 796.0 1637.6 800.0 1638.5 804.0 C1639.4 808.0 1640.0 812.0 1640.7 816.0 C1641.5 820.0 1642.3 824.0 1642.9 828.0 C1643.6 832.0 1644.1 836.0 1644.7 840.0 C1645.2 844.0 1646.0 850.0 1646.2 852.0" fill="none" stroke="#111" stroke-width="1.38" stroke-linejoin="round" stroke-linecap="round"/>
<path d="M1542.3 612.0 C1543.6 614.0 1547.5 620.0 1550.0 624.0 C1552.5 628.0 1554.9 632.0 1557.3 636.0 C1559.8 640.0 1562.1 644.0 1564.5 648.0 C1566.8 652.0 1569.1 656.0 1571.4 660.0 C1573.7 664.0 1575.9 668.0 1578.2 672.0 C1580.5 676.0 1582.8 680.0 1585.0 684.0 C1587.3 688.0 1589.5 692.0 1591.7 696.0 C1594.0 700.0 1596.2 704.0 1598.6 708.0 C1600.9 712.0 1603.4 716.0 1605.8 720.0 C1608.2 724.0 1610.5 728.0 1612.9 732.0 C1615.2 736.0 1617.8 740.0 1619.8 744.0 C1621.9 748.0 1623.5 752.0 1625.2 756.0 C1626.9 760.0 1628.4 764.0 1630.0 768.0 C1631.6 772.0 1633.1 776.0 1634.7 780.0 C1636.2 784.0 1638.0 788.0 1639.3 792.0 C1640.5 796.0 1641.3 800.0 1642.1 804.0 C1642.9 808.0 1643.5 812.0 1644.2 816.0 C1644.8 820.0 1645.5 824.0 1646.1 828.0 C1646.7 832.0 1647.4 838.0 1647.7 840.0" fill="none" stroke="#111" stroke-width="1.26" stroke-linejoin="round" stroke-linecap="round"/>
<path d="M1555.2 612.0 C1556.5 614.0 1560.6 620.0 1563.3 624.0 C1565.9 628.0 1568.5 632.0 1571.0 636.0 C1573.5 640.0 1575.9 644.0 1578.3 648.0 C1580.7 652.0 1583.1 656.0 1585.4 660.0 C1587.7 664.0 1589.9 668.0 1592.1 672.0 C1594.4 676.0 1596.6 680.0 1598.8 684.0 C1601.0 688.0 1603.1 692.0 1605.3 696.0 C1607.4 700.0 1609.6 704.0 1611.7 708.0 C1613.9 712.0 1616.2 716.0 1618.4 720.0 C1620.6 724.0 1622.8 728.0 1624.9 732.0 C1627.1 736.0 1629.4 740.0 1631.2 744.0 C1633.1 748.0 1634.5 752.0 1636.1 756.0 C1637.6 760.0 1639.0 764.0 1640.4 768.0 C1641.8 772.0 1643.1 776.0 1644.5 780.0 C1645.8 784.0 1647.4 788.0 1648.4 792.0 C1649.5 796.0 1650.1 800.0 1650.8 804.0 C1651.4 808.0 1651.9 812.0 1652.4 816.0 C1652.9 820.0 1653.4 824.0 1653.8 828.0 C1654.2 832.0 1654.7 838.0 1654.9 840.0" fill="none" stroke="#111" stroke-width="1.49" stroke-linejoin="round" stroke-linecap="round"/>
<path d="M1558.9 612.0 C1560.3 614.0 1564.5 620.0 1567.2 624.0 C1569.8 628.0 1572.4 632.0 1575.0 636.0 C1577.5 640.0 1580.0 644.0 1582.4 648.0 C1584.8 652.0 1587.1 656.0 1589.4 660.0 C1591.7 664.0 1594.0 668.0 1596.2 672.0 C1598.4 676.0 1600.7 680.0 1602.8 684.0 C1605.0 688.0 1607.1 692.0 1609.2 696.0 C1611.3 700.0 1613.4 704.0 1615.6 708.0 C1617.7 712.0 1620.0 716.0 1622.1 720.0 C1624.3 724.0 1626.4 728.0 1628.5 732.0 C1630.5 736.0 1632.8 740.0 1634.6 744.0 C1636.4 748.0 1637.8 752.0 1639.2 756.0 C1640.7 760.0 1642.0 764.0 1643.4 768.0 C1644.7 772.0 1646.1 776.0 1647.3 780.0 C1648.6 784.0 1650.1 788.0 1651.1 792.0 C1652.1 796.0 1652.7 800.0 1653.3 804.0 C1653.9 808.0 1654.3 812.0 1654.8 816.0 C1655.3 820.0 1655.7 824.0 1656.1 828.0 C1656.4 832.0 1656.8 838.0 1656.9 840.0" fill="none" stroke="#111" stroke-width="1.15" stroke-linejoin="round" stroke-linecap="round"/>
<path d="M1569.1 612.0 C1570.5 614.0 1574.9 620.0 1577.7 624.0 C1580.5 628.0 1583.2 632.0 1585.8 636.0 C1588.4 640.0 1590.9 644.0 1593.3 648.0 C1595.8 652.0 1598.1 656.0 1600.5 660.0 C1602.8 664.0 1605.0 668.0 1607.2 672.0 C1609.4 676.0 1611.6 680.0 1613.7 684.0 C1615.9 688.0 1617.9 692.0 1619.9 696.0 C1622.0 700.0 1624.0 704.0 1626.0 708.0 C1628.1 712.0 1630.2 716.0 1632.2 720.0 C1634.2 724.0 1636.1 728.0 1638.0 732.0 C1639.9 736.0 1641.9 740.0 1643.6 744.0 C1645.2 748.0 1646.5 752.0 1647.9 756.0 C1649.2 760.0 1650.4 764.0 1651.6 768.0 C1652.8 772.0 1654.0 776.0 1655.1 780.0 C1656.2 784.0 1657.5 788.0 1658.3 792.0 C1659.2 796.0 1659.7 800.0 1660.2 804.0 C1660.7 808.0 1661.0 812.0 1661.3 816.0 C1661.6 820.0 1662.0 824.0 1662.2 828.0 C1662.4 832.0 1662.5 838.0 1662.6 840.0" fill="none" stroke="#111" stroke-width="1.49" stroke-linejoin="round" stroke-linecap="round"/>
<path d="M1572.8 612.0 C1574.3 614.0 1578.8 620.0 1581.6 624.0 C1584.4 628.0 1587.1 632.0 1589.8 636.0 C1592.4 640.0 1594.9 644.0 1597.4 648.0 C1599.8 652.0 1602.2 656.0 1604.5 660.0 C1606.8 664.0 1609.1 668.0 1611.3 672.0 C1613.5 676.0 1615.7 680.0 1617.8 684.0 C1619.9 688.0 1621.9 692.0 1623.9 696.0 C1625.9 700.0 1627.9 704.0 1629.9 708.0 C1631.9 712.0 1633.9 716.0 1635.8 720.0 C1637.8 724.0 1639.7 728.0 1641.5 732.0 C1643.4 736.0 1645.3 740.0 1646.9 744.0 C1648.5 748.0 1649.8 752.0 1651.1 756.0 C1652.3 760.0 1653.5 764.0 1654.6 768.0 C1655.8 772.0 1656.9 776.0 1657.9 780.0 C1659.0 784.0 1660.2 788.0 1661.0 792.0 C1661.8 796.0 1662.2 800.0 1662.7 804.0 C1663.1 808.0 1663.4 812.0 1663.7 816.0 C1664.0 820.0 1664.3 824.0 1664.4 828.0 C1664.6 832.0 1664.7 838.0 1664.7 840.0" fill="none" stroke="#111" stroke-width="1.15" stroke-linejoin="round" stroke-linecap="round"/>
<path d="M1588.3 612.0 C1589.9 614.0 1594.7 620.0 1597.7 624.0 C1600.7 628.0 1603.5 632.0 1606.3 636.0 C1609.0 640.0 1611.6 644.0 1614.1 648.0 C1616.6 652.0 1619.0 656.0 1621.4 660.0 C1623.7 664.0 1625.9 668.0 1628.1 672.0 C1630.3 676.0 1632.4 680.0 1634.4 684.0 C1636.4 688.0 1638.3 692.0 1640.2 696.0 C1642.1 700.0 1644.0 704.0 1645.8 708.0 C1647.6 712.0 1649.4 716.0 1651.1 720.0 C1652.9 724.0 1654.5 728.0 1656.1 732.0 C1657.7 736.0 1659.4 740.0 1660.7 744.0 C1662.1 748.0 1663.1 752.0 1664.2 756.0 C1665.3 760.0 1666.3 764.0 1667.2 768.0 C1668.1 772.0 1669.0 776.0 1669.8 780.0 C1670.6 784.0 1671.5 788.0 1672.0 792.0 C1672.6 796.0 1672.9 800.0 1673.2 804.0 C1673.4 808.0 1673.5 812.0 1673.6 816.0 C1673.7 820.0 1673.7 826.0 1673.7 828.0" fill="none" stroke="#111" stroke-width="1.38" stroke-linejoin="round" stroke-linecap="round"/>
<path d="M1607.6 612.0 C1609.3 614.0 1614.5 620.0 1617.7 624.0 C1620.9 628.0 1623.9 632.0 1626.7 636.0 C1629.6 640.0 1632.3 644.0 1634.9 648.0 C1637.5 652.0 1640.0 656.0 1642.3 660.0 C1644.6 664.0 1646.9 668.0 1649.0 672.0 C1651.1 676.0 1653.1 680.0 1655.1 684.0 C1657.0 688.0 1658.8 692.0 1660.6 696.0 C1662.3 700.0 1664.0 704.0 1665.6 708.0 C1667.1 712.0 1668.7 716.0 1670.1 720.0 C1671.6 724.0 1672.9 728.0 1674.2 732.0 C1675.5 736.0 1676.8 740.0 1677.8 744.0 C1678.9 748.0 1679.7 752.0 1680.6 756.0 C1681.4 760.0 1682.1 764.0 1682.8 768.0 C1683.4 772.0 1684.0 776.0 1684.5 780.0 C1685.0 784.0 1685.5 788.0 1685.8 792.0 C1686.0 796.0 1686.1 800.0 1686.2 804.0 C1686.2 808.0 1686.1 812.0 1686.0 816.0 C1685.8 820.0 1685.4 826.0 1685.3 828.0" fill="none" stroke="#111" stroke-width="1.49" stroke-linejoin="round" stroke-linecap="round"/>
<path d="M1611.3 612.0 C1613.0 614.0 1618.3 620.0 1621.6 624.0 C1624.8 628.0 1627.8 632.0 1630.7 636.0 C1633.6 640.0 1636.3 644.0 1639.0 648.0 C1641.6 652.0 1644.0 656.0 1646.4 660.0 C1648.7 664.0 1650.9 668.0 1653.0 672.0 C1655.2 676.0 1657.2 680.0 1659.1 684.0 C1661.0 688.0 1662.8 692.0 1664.5 696.0 C1666.2 700.0 1667.8 704.0 1669.4 708.0 C1670.9 712.0 1672.4 716.0 1673.8 720.0 C1675.2 724.0 1676.5 728.0 1677.7 732.0 C1679.0 736.0 1680.1 740.0 1681.1 744.0 C1682.1 748.0 1683.0 752.0 1683.7 756.0 C1684.5 760.0 1685.2 764.0 1685.8 768.0 C1686.4 772.0 1686.9 776.0 1687.3 780.0 C1687.8 784.0 1688.2 788.0 1688.4 792.0 C1688.6 796.0 1688.7 800.0 1688.7 804.0 C1688.7 808.0 1688.4 814.0 1688.4 816.0" fill="none" stroke="#111" stroke-width="1.15" stroke-linejoin="round" stroke-linecap="round"/>
<path d="M1625.2 612.0 C1627.0 614.0 1632.6 620.0 1636.0 624.0 C1639.4 628.0 1642.5 632.0 1645.5 636.0 C1648.5 640.0 1651.3 644.0 1654.0 648.0 C1656.6 652.0 1659.1 656.0 1661.5 660.0 C1663.8 664.0 1666.0 668.0 1668.1 672.0 C1670.2 676.0 1672.2 680.0 1674.0 684.0 C1675.8 688.0 1677.6 692.0 1679.2 696.0 C1680.8 700.0 1682.3 704.0 1683.7 708.0 C1685.1 712.0 1686.4 716.0 1687.6 720.0 C1688.7 724.0 1689.8 728.0 1690.8 732.0 C1691.8 736.0 1692.7 740.0 1693.5 744.0 C1694.3 748.0 1695.0 752.0 1695.6 756.0 C1696.1 760.0 1696.6 764.0 1697.0 768.0 C1697.4 772.0 1697.7 776.0 1697.9 780.0 C1698.2 784.0 1698.3 788.0 1698.3 792.0 C1698.3 796.0 1698.3 800.0 1698.1 804.0 C1697.9 808.0 1697.4 814.0 1697.3 816.0" fill="none" stroke="#111" stroke-width="1.15" stroke-linejoin="round" stroke-linecap="round"/>
<path d="M1576.8 620.0 C1578.1 622.0 1582.4 628.0 1585.1 632.0 C1587.7 636.0 1590.3 640.0 1592.8 644.0 C1595.3 648.0 1597.8 652.0 1600.1 656.0 C1602.5 660.0 1604.7 664.0 1607.0 668.0 C1609.2 672.0 1611.4 676.0 1613.6 680.0 C1615.7 684.0 1617.8 688.0 1619.8 692.0 C1621.9 696.0 1623.8 700.0 1625.8 704.0 C1627.8 708.0 1630.0 712.0 1632.0 716.0 C1634.0 720.0 1635.9 724.0 1637.8 728.0 C1639.7 732.0 1641.7 736.0 1643.4 740.0 C1645.1 744.0 1646.7 748.0 1648.1 752.0 C1649.6 756.0 1650.7 760.0 1651.9 764.0 C1653.1 768.0 1654.3 772.0 1655.4 776.0 C1656.5 780.0 1657.7 784.0 1658.6 788.0 C1659.5 792.0 1660.4 796.0 1661.0 800.0 C1661.6 804.0 1661.8 808.0 1662.1 812.0 C1662.5 816.0 1662.8 820.0 1663.0 824.0 C1663.3 828.0 1663.5 834.0 1663.6 836.0" fill="none" stroke="#666" stroke-width="1.03" stroke-linejoin="round" stroke-linecap="round"/>
<path d="M1616.3 620.0 C1617.9 622.0 1622.8 628.0 1625.7 632.0 C1628.7 636.0 1631.5 640.0 1634.2 644.0 C1636.9 648.0 1639.5 652.0 1641.9 656.0 C1644.3 660.0 1646.6 664.0 1648.8 668.0 C1651.0 672.0 1653.1 676.0 1655.1 680.0 C1657.1 684.0 1658.9 688.0 1660.7 692.0 C1662.5 696.0 1664.2 700.0 1665.8 704.0 C1667.4 708.0 1669.0 712.0 1670.5 716.0 C1672.0 720.0 1673.4 724.0 1674.7 728.0 C1676.0 732.0 1677.2 736.0 1678.3 740.0 C1679.4 744.0 1680.4 748.0 1681.3 752.0 C1682.2 756.0 1682.9 760.0 1683.6 764.0 C1684.2 768.0 1684.8 772.0 1685.4 776.0 C1685.9 780.0 1686.4 784.0 1686.7 788.0 C1687.0 792.0 1687.3 796.0 1687.4 800.0 C1687.5 804.0 1687.4 808.0 1687.3 812.0 C1687.2 816.0 1686.8 822.0 1686.7 824.0" fill="none" stroke="#666" stroke-width="1.03" stroke-linejoin="round" stroke-linecap="round"/>
<path d="M1609.7 594.0 C1611.9 596.0 1618.8 602.0 1623.0 606.0 C1627.1 610.0 1631.0 614.0 1634.6 618.0 C1638.3 622.0 1641.6 626.0 1644.8 630.0 C1648.1 634.0 1651.0 638.0 1653.9 642.0 C1656.7 646.0 1659.4 650.0 1661.9 654.0 C1664.4 658.0 1666.7 662.0 1669.0 666.0 C1671.2 670.0 1673.3 674.0 1675.2 678.0 C1677.1 682.0 1679.0 686.0 1680.7 690.0 C1682.4 694.0 1683.9 698.0 1685.4 702.0 C1686.9 706.0 1688.2 710.0 1689.5 714.0 C1690.7 718.0 1691.8 722.0 1692.9 726.0 C1693.9 730.0 1694.8 734.0 1695.7 738.0 C1696.5 742.0 1697.2 746.0 1697.9 750.0 C1698.5 754.0 1699.0 758.0 1699.5 762.0 C1699.9 766.0 1700.2 770.0 1700.5 774.0 C1700.8 778.0 1700.9 782.0 1701.0 786.0 C1701.0 790.0 1701.0 794.0 1700.9 798.0 C1700.7 802.0 1701.1 806.3 1700.2 810.0 C1699.4 813.7 1696.5 818.3 1695.7 820.0" fill="none" stroke="#111" stroke-width="1.84" stroke-linejoin="round" stroke-linecap="round"/>
<path d="M1639.3 857.0 L1682.8 833.9 L1695.7 820.0" fill="none" stroke="#111" stroke-width="1.84" stroke-linejoin="round" stroke-linecap="round"/>
<path d="M1636.0 851.0 L1680.0 828.0 L1692.0 816.0" fill="none" stroke="#111" stroke-width="1.15" stroke-linejoin="round" stroke-linecap="round"/>
<path d="M1643.3 733.0 C1645.6 731.0 1654.7 726.5 1658.0 726.0 C1661.3 725.5 1662.8 728.2 1663.3 730.0 C1663.8 731.8 1663.7 735.0 1661.0 737.0 C1658.3 739.0 1649.8 742.0 1647.0 742.2 C1644.2 742.4 1644.6 739.5 1644.0 738.0 C1643.4 736.5 1641.0 735.0 1643.3 733.0 Z" fill="none" stroke="#111" stroke-width="1.49" stroke-linejoin="round" stroke-linecap="round"/>
<path d="M1660.6 822.0 C1662.8 819.7 1670.8 815.7 1674.0 815.4 C1677.2 815.1 1679.3 818.1 1680.0 820.0 C1680.7 821.9 1680.7 824.7 1678.0 827.0 C1675.3 829.3 1666.8 833.6 1664.0 833.9 C1661.2 834.2 1661.6 831.0 1661.0 829.0 C1660.4 827.0 1658.4 824.3 1660.6 822.0 Z" fill="none" stroke="#111" stroke-width="1.49" stroke-linejoin="round" stroke-linecap="round"/>
<circle cx="1652.2" cy="711.1" r="2.8" fill="#111"/>
<rect x="1534.5" y="637.3" width="12" height="11" rx="3" transform="rotate(-30 1540.5 642.8)" fill="#fff" stroke="#111" stroke-width="1.49"/>
<rect x="1551.0" y="660.5" width="20" height="18" rx="6" transform="rotate(-30 1561.0 669.5)" fill="#fff" stroke="#111" stroke-width="1.49"/>
<rect x="1571.0" y="651.0" width="10" height="10" rx="3" transform="rotate(-30 1576.0 656.0)" fill="#fff" stroke="#111" stroke-width="1.49"/>
<rect x="1604.7" y="659.8" width="14" height="26" rx="4" transform="rotate(-25 1611.7 672.8)" fill="#fff" stroke="#111" stroke-width="1.49"/>
<rect x="1584.7" y="636.8" width="26" height="24" rx="5" transform="rotate(-30 1597.7 648.8)" fill="#fff" stroke="#111" stroke-width="1.49"/>
<rect x="1577.0" y="624.0" width="16" height="11" rx="3" transform="rotate(-30 1585.0 629.5)" fill="#fff" stroke="#111" stroke-width="1.49"/>
<rect x="1610.6" y="627.8" width="12" height="11" rx="3" transform="rotate(-30 1616.6 633.3)" fill="#fff" stroke="#111" stroke-width="1.49"/>
<rect x="1623.0" y="614.3" width="14" height="8" rx="3" transform="rotate(-30 1630.0 618.3)" fill="#fff" stroke="#111" stroke-width="1.49"/>
<path d="M1629.6 612.0 C1631.8 611.8 1639.1 608.8 1643.0 610.5 C1646.9 612.2 1651.4 617.1 1652.9 622.0 C1654.4 626.9 1653.8 636.3 1652.0 640.0 C1650.2 643.7 1644.7 644.9 1642.0 644.2 C1639.3 643.5 1637.0 637.4 1636.0 636.0" fill="none" stroke="#111" stroke-width="1.61" stroke-linejoin="round" stroke-linecap="round"/>
<ellipse cx="1646" cy="632" rx="2.5" ry="4" transform="rotate(-20 1646 632)" fill="none" stroke="#111" stroke-width="1.49"/>
<path d="M1589.2 552.6 L1596.0 553.5 L1600.0 557.0 L1604.8 562.2 L1607.0 566.0 L1606.0 571.9 L1604.3 577.0 L1604.8 586.0 L1608.5 597.0" fill="none" stroke="#111" stroke-width="1.72" stroke-linejoin="round" stroke-linecap="round"/>
<path d="M1601.0 567.0 L1602.5 571.0 L1601.0 577.0 L1601.5 587.0 L1605.0 598.0" fill="none" stroke="#111" stroke-width="1.03" stroke-linejoin="round" stroke-linecap="round"/>
<path d="M1605.0 556.7 L1613.0 553.0 L1616.1 557.0 L1616.1 572.0 L1609.0 575.0" fill="none" stroke="#111" stroke-width="1.49" stroke-linejoin="round" stroke-linecap="round"/>
<path d="M1607.8 577.0 L1615.0 583.0 L1624.4 584.4" fill="none" stroke="#111" stroke-width="1.49" stroke-linejoin="round" stroke-linecap="round"/>
<path d="M1567.0 566.9 L1568.9 583.5" fill="none" stroke="#111" stroke-width="1.49" stroke-linejoin="round" stroke-linecap="round"/>
<path d="M1546.7 577.0 L1567.0 570.0 L1567.0 584.0 L1560.0 588.0" fill="none" stroke="#111" stroke-width="1.38" stroke-linejoin="round" stroke-linecap="round"/>
<path d="M1537.0 584.4 C1536.2 585.3 1532.7 587.7 1532.0 590.0 C1531.3 592.3 1531.8 596.1 1533.0 598.0 C1534.2 599.9 1538.2 600.6 1539.3 601.1" fill="none" stroke="#111" stroke-width="1.61" stroke-linejoin="round" stroke-linecap="round"/>
<path d="M1540.0 585.0 C1539.3 586.0 1536.5 589.2 1536.0 591.0 C1535.5 592.8 1536.8 595.2 1537.0 596.0" fill="none" stroke="#111" stroke-width="1.15" stroke-linejoin="round" stroke-linecap="round"/>
<path d="M1512.4 586.3 L1519.8 604.8" fill="none" stroke="#111" stroke-width="1.49" stroke-linejoin="round" stroke-linecap="round"/>
<path d="M1515.0 585.0 L1522.0 603.0" fill="none" stroke="#111" stroke-width="1.15" stroke-linejoin="round" stroke-linecap="round"/>
<path d="M1493.9 603.0 L1513.0 593.0 L1515.2 604.0 L1496.0 614.0 Z" fill="none" stroke="#111" stroke-width="1.49" stroke-linejoin="round" stroke-linecap="round"/>
<path d="M1499 606 L1510 600" stroke="#222" stroke-width="3" stroke-dasharray="2.5 1.5"/>
<path d="M1531.9 614.0 L1550.0 603.0 L1572.6 591.9 L1604.1 603.0 L1634.0 615.4" fill="none" stroke="#111" stroke-width="1.61" stroke-linejoin="round" stroke-linecap="round"/>
<path d="M1534.0 619.0 L1552.0 608.0 L1573.0 597.0 L1603.0 608.0 L1632.0 620.0" fill="none" stroke="#111" stroke-width="1.15" stroke-linejoin="round" stroke-linecap="round"/>
<path d="M1537.4 610.4 C1539.5 609.3 1545.7 605.9 1550.0 604.0 C1554.3 602.1 1559.8 598.2 1563.3 599.3 C1566.8 600.4 1569.5 607.0 1570.7 610.4 C1571.9 613.8 1571.5 617.1 1570.7 619.6 C1569.9 622.1 1566.9 624.3 1566.1 625.2" fill="none" stroke="#111" stroke-width="1.61" stroke-linejoin="round" stroke-linecap="round"/>
<ellipse cx="1554.1" cy="606.7" rx="4.4" ry="4.0" transform="rotate(0 1554.1 606.7)" fill="none" stroke="#111" stroke-width="2.30"/>
<ellipse cx="1554.1" cy="606.7" rx="1.8" ry="1.6" transform="rotate(0 1554.1 606.7)" fill="none" stroke="#111" stroke-width="1.15"/>
<circle cx="1561.5" cy="616.9" r="2.6" fill="#111"/>
<circle cx="1568" cy="591.9" r="4.2" fill="#1a1a1a"/>
<path d="M1526.3 619.6 L1531.9 610.4" fill="none" stroke="#111" stroke-width="1.49" stroke-linejoin="round" stroke-linecap="round"/>
<path d="M1611.5 591.9 C1612.7 591.4 1616.5 588.5 1618.9 589.0 C1621.3 589.5 1622.9 590.4 1626.0 595.0 C1629.1 599.6 1635.5 613.2 1637.4 616.9" fill="none" stroke="#111" stroke-width="1.49" stroke-linejoin="round" stroke-linecap="round"/>
<path d="M1484.4 596.0 L1529.0 568.3 L1597.6 526.1" fill="none" stroke="#111" stroke-width="1.84" stroke-linejoin="round" stroke-linecap="round"/>
<path d="M1490.0 600.0 L1616.0 530.0" fill="none" stroke="#111" stroke-width="1.72" stroke-linejoin="round" stroke-linecap="round"/>
<path d="M1530.2 574.0 L1589.2 551.4" fill="none" stroke="#111" stroke-width="1.38" stroke-linejoin="round" stroke-linecap="round"/>
<path d="M1595.2 524.9 L1603.0 519.0 L1617.0 524.0 L1616.9 543.0 L1612.0 546.0" fill="none" stroke="#111" stroke-width="1.72" stroke-linejoin="round" stroke-linecap="round"/>
<path d="M1603.0 519.0 L1604.0 528.0" fill="none" stroke="#111" stroke-width="1.15" stroke-linejoin="round" stroke-linecap="round"/>
<path d="M1567.5 511.7 L1596.4 524.9" fill="none" stroke="#111" stroke-width="1.49" stroke-linejoin="round" stroke-linecap="round"/>
<path d="M1513.3 557.4 L1529.0 567.1" fill="none" stroke="#111" stroke-width="1.38" stroke-linejoin="round" stroke-linecap="round"/>
<ellipse cx="1508.5" cy="558.6" rx="3" ry="3" transform="rotate(0 1508.5 558.6)" fill="none" stroke="#111" stroke-width="1.84"/>
<circle cx="1557.9" cy="541.8" r="2.6" fill="#111"/>
<path d="M1582.0 490.0 C1587.4 492.4 1607.5 500.0 1614.5 504.4 C1621.5 508.8 1622.3 512.9 1624.1 516.5 C1625.9 520.1 1625.1 515.7 1625.3 526.1 C1625.5 536.5 1625.7 569.5 1625.3 579.1 C1624.9 588.7 1624.7 582.9 1622.9 583.9 C1621.1 584.9 1616.9 585.9 1614.5 585.1 C1612.1 584.3 1609.5 580.1 1608.5 579.1" fill="none" stroke="#111" stroke-width="1.84" stroke-linejoin="round" stroke-linecap="round"/>
<path d="M1584.0 495.0 C1588.5 497.2 1605.0 504.0 1611.0 508.0 C1617.0 512.0 1618.2 515.7 1620.0 519.0 C1621.8 522.3 1621.2 518.5 1621.5 528.0 C1621.8 537.5 1621.5 568.0 1621.5 576.0" fill="none" stroke="#111" stroke-width="1.15" stroke-linejoin="round" stroke-linecap="round"/>
<circle cx="1620" cy="574" r="2.6" fill="#111"/>
<path d="M1403.0 502.8 L1366.0 523.5 L1358.5 529.4 L1343.7 544.3 L1336.3 559.1 L1337.8 571.0 L1346.7 581.3 L1367.4 588.7 L1370.0 606.7 L1543.3 706.7 L1549.0 713.0 L1556.0 716.5 L1564.0 716.0 L1571.0 709.0 L1573.5 699.0 L1570.0 688.0 L1553.3 680.0 L1522.2 644.4 L1500.0 622.2 L1486.7 610.0 L1483.3 597.5 L1398.3 550.0 L1403.0 535.0 Z" fill="#fff" stroke="#111" stroke-width="1.84" stroke-linejoin="round" stroke-linecap="round"/>
<path d="M1367.4 588.7 C1367.8 588.6 1338.7 570.9 1370.0 588.3 C1401.3 605.7 1524.2 675.8 1555.0 693.3" fill="none" stroke="#111" stroke-width="1.49" stroke-linejoin="round" stroke-linecap="round"/>
<path d="M1373.3 600.0 L1553.3 693.3" fill="none" stroke="#111" stroke-width="1.49" stroke-linejoin="round" stroke-linecap="round"/>
<path d="M1539.0 692.0 L1554.4 690.0 L1554.4 700.0 L1548.0 697.0" fill="#fff" stroke="#111" stroke-width="2.07" stroke-linejoin="round" stroke-linecap="round"/>
<path d="M1556.0 680.0 C1557.7 681.0 1563.7 683.0 1566.0 686.0 C1568.3 689.0 1570.0 694.0 1570.0 698.0 C1570.0 702.0 1568.3 707.3 1566.0 710.0 C1563.7 712.7 1557.7 713.3 1556.0 714.0" fill="none" stroke="#111" stroke-width="1.15" stroke-linejoin="round" stroke-linecap="round"/>
<path d="M1357.0 532.4 L1398.3 550.0" fill="none" stroke="#111" stroke-width="1.49" stroke-linejoin="round" stroke-linecap="round"/>
<path d="M1489.0 601.0 C1491.3 604.0 1497.0 612.3 1503.0 619.0 C1509.0 625.7 1516.2 631.5 1525.0 641.0 C1533.8 650.5 1549.0 668.8 1556.0 676.0 C1563.0 683.2 1565.2 682.7 1567.0 684.0" fill="none" stroke="#111" stroke-width="1.26" stroke-linejoin="round" stroke-linecap="round"/>
<ellipse cx="1345.2" cy="566.5" rx="5.5" ry="6.5" transform="rotate(20 1345.2 566.5)" fill="none" stroke="#111" stroke-width="1.72"/>
<ellipse cx="1363" cy="551.7" rx="5.5" ry="6.5" transform="rotate(20 1363 551.7)" fill="none" stroke="#111" stroke-width="1.72"/>
<ellipse cx="1380" cy="580" rx="6.5" ry="7.5" transform="rotate(20 1380 580)" fill="none" stroke="#111" stroke-width="2.07"/>
<ellipse cx="1473.3" cy="610" rx="5.5" ry="6.5" transform="rotate(20 1473.3 610)" fill="none" stroke="#111" stroke-width="1.72"/>
<ellipse cx="1478.3" cy="625.8" rx="3.3" ry="3.8" transform="rotate(20 1478.3 625.8)" fill="none" stroke="#111" stroke-width="1.72"/>
<path d="M1405.4 576.3 L1446.4 597.8 L1446.4 610.3 L1404.7 588.0 Z" fill="#1a1a1a" stroke="#111" stroke-width="1.61" stroke-linejoin="round" stroke-linecap="round"/>
<text x="1407.5" y="587" font-family="Liberation Sans" font-weight="bold" font-size="10" fill="#ddd" transform="rotate(27.5 1407.5 587)" textLength="37" lengthAdjust="spacingAndGlyphs">XUVOL</text>
<path d="M1399.9 588.0 L1470.7 627.6 L1470.7 639.4 L1399.2 599.2 Z" fill="#fff" stroke="#111" stroke-width="1.61" stroke-linejoin="round" stroke-linecap="round"/>
<path d="M1400 589 L1453 618.5 L1453 630 L1399.5 598.5 Z" fill="#1a1a1a"/>
<path d="M1405 593 L1416 599 M1425 605 L1440 613" stroke="#bbb" stroke-width="1"/>
<path d="M1455.0 624.0 L1468.0 631.5 L1467.0 636.0" fill="none" stroke="#111" stroke-width="1.15" stroke-linejoin="round" stroke-linecap="round"/>
<path d="M1373.3 529.0 L1394.5 524.5 L1396.0 547.0 L1374.5 551.0 Z" fill="#fff" stroke="#111" stroke-width="1.84" stroke-linejoin="round" stroke-linecap="round"/>
<path d="M1374.5 551.0 L1396.0 547.0 L1396.5 566.0 L1388.0 572.0 L1375.0 566.0 Z" fill="#fff" stroke="#111" stroke-width="1.84" stroke-linejoin="round" stroke-linecap="round"/>
<path d="M1374.0 549.0 L1396.0 545.0" fill="none" stroke="#111" stroke-width="2.99" stroke-linejoin="round" stroke-linecap="round"/>
<circle cx="1376.3" cy="533.9" r="2.6" fill="#111"/>
<circle cx="1391.1" cy="532.4" r="2.6" fill="#111"/>
<circle cx="1385.2" cy="541.3" r="2.6" fill="#111"/>
<circle cx="1383.7" cy="556.1" r="2.6" fill="#111"/>
<circle cx="1391.1" cy="568" r="2.6" fill="#111"/>
<circle cx="1378" cy="546" r="2.6" fill="#111"/>
<path d="M1377.0 531.0 L1378.0 540.0" fill="none" stroke="#111" stroke-width="2.53" stroke-linejoin="round" stroke-linecap="round"/>
<path d="M1396.0 547.0 L1401.0 552.0 L1400.0 573.9 L1394.0 572.0" fill="none" stroke="#111" stroke-width="1.61" stroke-linejoin="round" stroke-linecap="round"/>
<path d="M1366.0 528.0 L1373.3 529.0" fill="none" stroke="#111" stroke-width="1.38" stroke-linejoin="round" stroke-linecap="round"/>
<path d="M1494.0 553.0 C1496.6 552.9 1501.7 555.1 1509.7 552.6 C1517.7 550.1 1534.0 544.2 1542.2 538.2 C1550.4 532.2 1556.3 520.1 1559.1 516.5" fill="none" stroke="#111" stroke-width="1.72" stroke-linejoin="round" stroke-linecap="round"/>
<path d="M1403.3 529.6 L1433.0 550.4 L1470.0 545.4 L1490.5 546.6 L1580.8 493.6" fill="none" stroke="#111" stroke-width="1.84" stroke-linejoin="round" stroke-linecap="round"/>
<path d="M1403.3 535.0 L1431.0 555.0 L1470.0 550.2 L1492.0 551.0 L1582.0 499.6" fill="none" stroke="#111" stroke-width="1.26" stroke-linejoin="round" stroke-linecap="round"/>
<path d="M1582.6 497.0 L1584.0 493.0 L1583.0 488.0" fill="none" stroke="#111" stroke-width="1.49" stroke-linejoin="round" stroke-linecap="round"/>
<ellipse cx="1464" cy="556.3" rx="3" ry="2.5" transform="rotate(0 1464 556.3)" fill="none" stroke="#111" stroke-width="1.61"/>
<path d="M1405.6 430.4 L1405.6 528.9" fill="none" stroke="#111" stroke-width="2.07" stroke-linejoin="round" stroke-linecap="round"/>
<path d="M1408.5 432.0 L1408.5 527.0" fill="none" stroke="#111" stroke-width="1.15" stroke-linejoin="round" stroke-linecap="round"/>
<path d="M1405.6 430.4 L1431.7 418.3 L1439.2 420.8 L1439.2 436.0" fill="none" stroke="#111" stroke-width="1.84" stroke-linejoin="round" stroke-linecap="round"/>
<path d="M1434.4 475.6 L1434.4 544.4" fill="none" stroke="#111" stroke-width="1.61" stroke-linejoin="round" stroke-linecap="round"/>
<path d="M1438.9 475.6 L1438.9 544.4" fill="none" stroke="#111" stroke-width="1.61" stroke-linejoin="round" stroke-linecap="round"/>
<path d="M1484.8 475.6 L1484.8 544.4" fill="none" stroke="#111" stroke-width="1.61" stroke-linejoin="round" stroke-linecap="round"/>
<path d="M1487.8 475.6 L1487.8 544.4" fill="none" stroke="#111" stroke-width="1.61" stroke-linejoin="round" stroke-linecap="round"/>
<path d="M1508.5 463.0 L1508.5 532.6" fill="none" stroke="#111" stroke-width="1.61" stroke-linejoin="round" stroke-linecap="round"/>
<path d="M1511.5 463.0 L1511.5 532.6" fill="none" stroke="#111" stroke-width="1.61" stroke-linejoin="round" stroke-linecap="round"/>
<path d="M1405.6 528.9 L1434.4 544.4 L1486.3 544.4 L1508.5 532.6" fill="none" stroke="#111" stroke-width="2.07" stroke-linejoin="round" stroke-linecap="round"/>
<ellipse cx="1462" cy="532.5" rx="18" ry="5" transform="rotate(-10 1462 532.5)" fill="none" stroke="#111" stroke-width="2.07"/>
<path d="M1447 535 Q1460 526 1478 528 Q1466 532 1450 537 Z" fill="#222"/>
<ellipse cx="1464" cy="531" rx="5" ry="2" transform="rotate(-10 1464 531)" fill="none" stroke="#111" stroke-width="1.15"/>
<path d="M1433.3 450.0 C1435.2 448.7 1440.8 443.8 1445.0 442.0 C1449.2 440.2 1453.3 438.8 1458.3 439.2 C1463.3 439.6 1470.9 442.1 1475.0 444.2 C1479.1 446.3 1480.8 448.8 1483.0 452.0 C1485.2 455.2 1487.4 461.4 1488.3 463.3" fill="none" stroke="#111" stroke-width="2.30" stroke-linejoin="round" stroke-linecap="round"/>
<path d="M1436.0 452.0 C1437.8 451.0 1443.2 447.3 1447.0 446.0 C1450.8 444.7 1454.8 443.7 1459.0 444.0 C1463.2 444.3 1468.5 446.0 1472.0 448.0 C1475.5 450.0 1478.0 453.3 1480.0 456.0 C1482.0 458.7 1483.3 462.7 1484.0 464.0" fill="none" stroke="#111" stroke-width="1.26" stroke-linejoin="round" stroke-linecap="round"/>
<path d="M1425.0 449.2 L1445.8 438.3 L1447.0 445.0" fill="none" stroke="#111" stroke-width="1.84" stroke-linejoin="round" stroke-linecap="round"/>
<path d="M1425.0 449.2 L1425.0 458.0" fill="none" stroke="#111" stroke-width="1.84" stroke-linejoin="round" stroke-linecap="round"/>
<path d="M1409.2 458.3 L1435.8 475.0 L1487.5 475.0 L1508.3 463.3" fill="none" stroke="#111" stroke-width="2.53" stroke-linejoin="round" stroke-linecap="round"/>
<path d="M1411 459 L1426 455 L1447 466 L1446 473 L1436 474 Z" fill="#222"/>
<path d="M1416 462 L1424 459 M1420 466 L1430 462 M1428 469 L1438 465" stroke="#888" stroke-width="0.8"/>
<path d="M1436.0 466.0 L1447.0 462.0 L1458.0 464.0 L1470.0 462.0 L1480.0 458.0 L1488.0 463.0" fill="none" stroke="#111" stroke-width="2.30" stroke-linejoin="round" stroke-linecap="round"/>
<circle cx="1440" cy="450.8" r="2.2" fill="#111"/>
<circle cx="1446.7" cy="453.3" r="2.2" fill="#111"/>
<circle cx="1461.7" cy="450" r="2.2" fill="#111"/>
<circle cx="1466.7" cy="456.7" r="2.2" fill="#111"/>
<circle cx="1447.5" cy="463.3" r="2.2" fill="#111"/>
<circle cx="1459.2" cy="462.5" r="2.2" fill="#111"/>
<circle cx="1437.5" cy="458.3" r="2.2" fill="#111"/>
<rect x="1447.5" y="440.8" width="8" height="17" fill="#333" transform="rotate(-5 1451 449)"/>
<path d="M1449 445 H1454 M1449 449 H1454 M1449 453 H1454" stroke="#aaa" stroke-width="0.8"/>
<path d="M1427.5 430.8 L1440.0 436.7" fill="none" stroke="#111" stroke-width="2.53" stroke-linejoin="round" stroke-linecap="round"/>
<path d="M1470.0 434.0 C1469.7 433.3 1468.0 430.9 1468.3 430.0 C1468.6 429.1 1470.7 428.1 1472.0 428.3 C1473.3 428.5 1475.3 430.6 1476.0 431.0" fill="none" stroke="#111" stroke-width="1.84" stroke-linejoin="round" stroke-linecap="round"/>
<path d="M1473.0 434.0 L1483.0 432.0 L1485.8 437.0 L1485.8 443.3" fill="none" stroke="#111" stroke-width="1.61" stroke-linejoin="round" stroke-linecap="round"/>
<path d="M1474.0 435.0 L1476.0 443.3" fill="none" stroke="#111" stroke-width="1.61" stroke-linejoin="round" stroke-linecap="round"/>
<path d="M1499.2 453.0 L1503.0 446.0 L1510.0 447.0 L1513.0 452.0" fill="none" stroke="#111" stroke-width="1.72" stroke-linejoin="round" stroke-linecap="round"/>
<path d="M1499.2 453.0 L1500.0 458.3" fill="none" stroke="#111" stroke-width="1.49" stroke-linejoin="round" stroke-linecap="round"/>
<path d="M1507 452 L1516 456 L1514 461 L1506 458 Z" fill="#222"/>
<ellipse cx="1420.8" cy="434.5" rx="6.5" ry="3.8" transform="rotate(0 1420.8 434.5)" fill="none" stroke="#111" stroke-width="2.07"/>
<ellipse cx="1420.8" cy="439.5" rx="6.5" ry="3.8" transform="rotate(0 1420.8 439.5)" fill="none" stroke="#111" stroke-width="1.61"/>
<ellipse cx="1420.8" cy="433.5" rx="2.5" ry="1.5" transform="rotate(0 1420.8 433.5)" fill="none" stroke="#111" stroke-width="1.38"/>
<path d="M1408.0 431.0 L1431.7 418.3 L1439.2 420.8" fill="none" stroke="#111" stroke-width="1.61" stroke-linejoin="round" stroke-linecap="round"/>
<path d="M1411.0 431.0 L1432.0 421.0" fill="none" stroke="#111" stroke-width="1.03" stroke-linejoin="round" stroke-linecap="round"/>
<path d="M1440.0 435.8 L1456.7 428.3 L1498.3 403.3 L1515.6 391.7 L1524.4 390.2 L1565.9 413.9" fill="none" stroke="#111" stroke-width="1.84" stroke-linejoin="round" stroke-linecap="round"/>
<circle cx="1506.7" cy="426.7" r="2.8" fill="#111"/>
<path d="M1511.5 532.6 L1582.6 494.0" fill="none" stroke="#111" stroke-width="1.84" stroke-linejoin="round" stroke-linecap="round"/>
<path d="M1582.0 436.0 L1582.6 494.0" fill="none" stroke="#111" stroke-width="1.49" stroke-linejoin="round" stroke-linecap="round"/>
<path d="M1529.0 490.5 L1566.0 472.5 L1569.0 474.0 L1570.7 495.0 L1568.0 498.0 L1532.0 517.5 L1529.5 515.0 Z" fill="none" stroke="#111" stroke-width="1.84" stroke-linejoin="round" stroke-linecap="round"/>
<circle cx="1505" cy="475" r="2.3" fill="#111"/>
<circle cx="1505" cy="502" r="2.3" fill="#111"/>
<circle cx="1505" cy="528" r="2.3" fill="#111"/>
<circle cx="1540" cy="487" r="2.3" fill="#111"/>
<circle cx="1526" cy="512" r="2.3" fill="#111"/>
<circle cx="1568" cy="497" r="2.3" fill="#111"/>
<path d="M1429.6 419.8 C1431.8 416.8 1438.8 407.9 1443.0 402.0 C1447.2 396.1 1451.3 389.2 1454.8 384.3 C1458.2 379.4 1460.2 375.0 1463.7 372.4 C1467.2 369.8 1471.9 369.7 1475.6 368.7 C1479.3 367.7 1477.3 371.8 1485.9 366.5 C1494.5 361.2 1519.0 342.3 1527.4 336.9 C1535.8 331.5 1533.5 333.4 1536.3 333.9 C1539.1 334.4 1542.8 336.8 1544.4 339.8 C1546.0 342.8 1546.5 347.8 1545.9 351.7 C1545.3 355.6 1544.3 357.1 1540.7 363.5 C1537.1 369.9 1527.1 385.8 1524.4 390.2" fill="none" stroke="#111" stroke-width="1.84" stroke-linejoin="round" stroke-linecap="round"/>
<path d="M1434.0 418.0 C1436.0 415.3 1442.2 407.3 1446.0 402.0 C1449.8 396.7 1453.8 390.3 1457.0 386.0 C1460.2 381.7 1461.7 378.3 1465.0 376.0 C1468.3 373.7 1473.2 373.0 1477.0 372.0 C1480.8 371.0 1479.5 375.2 1488.0 370.0 C1496.5 364.8 1520.0 346.3 1528.0 341.0 C1536.0 335.7 1533.8 337.8 1536.0 338.0 C1538.2 338.2 1540.0 339.7 1541.0 342.0 C1542.0 344.3 1542.7 348.5 1542.0 352.0 C1541.3 355.5 1537.8 361.2 1537.0 363.0" fill="none" stroke="#111" stroke-width="1.15" stroke-linejoin="round" stroke-linecap="round"/>
<ellipse cx="1468.9" cy="391.7" rx="10.5" ry="14.5" transform="rotate(25 1468.9 391.7)" fill="none" stroke="#111" stroke-width="2.07"/>
<ellipse cx="1468.9" cy="391.7" rx="7.5" ry="11" transform="rotate(25 1468.9 391.7)" fill="none" stroke="#111" stroke-width="1.38"/>
<ellipse cx="1531.9" cy="357.6" rx="10.5" ry="14.5" transform="rotate(25 1531.9 357.6)" fill="none" stroke="#111" stroke-width="2.07"/>
<ellipse cx="1531.9" cy="357.6" rx="7.5" ry="11" transform="rotate(25 1531.9 357.6)" fill="none" stroke="#111" stroke-width="1.38"/>
<path d="M1509.6 462.8 C1511.8 461.1 1519.0 457.1 1523.0 452.4 C1527.0 447.7 1530.1 439.8 1533.3 434.6 C1536.5 429.4 1538.5 424.8 1542.2 421.3 C1545.9 417.9 1545.2 420.1 1555.6 413.9 C1566.0 407.7 1594.5 390.0 1604.4 384.3 C1614.3 378.6 1611.6 379.6 1614.8 379.8 C1618.0 380.0 1622.1 383.0 1623.7 385.7 C1625.3 388.4 1625.1 392.4 1624.4 396.1 C1623.7 399.8 1622.6 400.6 1619.3 408.0 C1616.0 415.4 1606.9 435.2 1604.4 440.6" fill="none" stroke="#111" stroke-width="1.84" stroke-linejoin="round" stroke-linecap="round"/>
<path d="M1513.0 463.0 C1515.2 461.7 1522.2 459.3 1526.0 455.0 C1529.8 450.7 1532.8 442.2 1536.0 437.0 C1539.2 431.8 1541.5 427.2 1545.0 424.0 C1548.5 420.8 1547.0 423.8 1557.0 418.0 C1567.0 412.2 1595.5 394.5 1605.0 389.0 C1614.5 383.5 1611.5 385.0 1614.0 385.0 C1616.5 385.0 1619.0 387.0 1620.0 389.0 C1621.0 391.0 1620.7 394.2 1620.0 397.0 C1619.3 399.8 1616.7 404.5 1616.0 406.0" fill="none" stroke="#111" stroke-width="1.15" stroke-linejoin="round" stroke-linecap="round"/>
<ellipse cx="1548.1" cy="434.6" rx="9.5" ry="13.5" transform="rotate(25 1548.1 434.6)" fill="none" stroke="#111" stroke-width="2.53"/>
<ellipse cx="1548.1" cy="434.6" rx="6.5" ry="10" transform="rotate(25 1548.1 434.6)" fill="none" stroke="#111" stroke-width="1.38"/>
<ellipse cx="1610.4" cy="400.6" rx="9.5" ry="13.5" transform="rotate(25 1610.4 400.6)" fill="none" stroke="#111" stroke-width="2.53"/>
<ellipse cx="1610.4" cy="400.6" rx="6.5" ry="10" transform="rotate(25 1610.4 400.6)" fill="none" stroke="#111" stroke-width="1.38"/>
<path d="M1561.0 419.0 L1594.0 402.0 L1597.0 425.0 L1563.0 443.0 Z" fill="none" stroke="#111" stroke-width="1.72" stroke-linejoin="round" stroke-linecap="round"/>
<path d="M1566.0 438.0 L1572.0 422.0 L1578.0 434.0 Z" fill="none" stroke="#111" stroke-width="1.49" stroke-linejoin="round" stroke-linecap="round"/>
<path d="M1580.0 415.0 L1592.0 409.0" fill="none" stroke="#111" stroke-width="2.30" stroke-linejoin="round" stroke-linecap="round"/>
<path d="M1551.5 455.6 L1573.7 443.7 L1575.2 465.9 L1553.0 476.3 Z" fill="#1a1a1a" stroke="#111" stroke-width="1.15" stroke-linejoin="round" stroke-linecap="round"/>
<path d="M1567 450 L1568 462 M1556 466 L1560 470" stroke="#999" stroke-width="1"/>
<path d="M1578.1 442.2 L1606.3 442.2 L1610.7 449.6 L1609.3 476.3 L1587.0 480.7 L1575.2 468.9 Z" fill="#fff" stroke="#111" stroke-width="1.84" stroke-linejoin="round" stroke-linecap="round"/>
<path d="M1588.0 446.0 L1606.0 446.0 L1607.0 474.0 L1590.0 478.0" fill="none" stroke="#111" stroke-width="1.15" stroke-linejoin="round" stroke-linecap="round"/>
<ellipse cx="1581" cy="455" rx="4.4" ry="4.4" transform="rotate(0 1581 455)" fill="none" stroke="#111" stroke-width="1.72"/>
<ellipse cx="1588.5" cy="463" rx="6.5" ry="6.5" transform="rotate(0 1588.5 463)" fill="none" stroke="#111" stroke-width="1.84"/>
<ellipse cx="1588.5" cy="463" rx="3" ry="3" transform="rotate(0 1588.5 463)" fill="none" stroke="#111" stroke-width="1.38"/>
<ellipse cx="1580" cy="470" rx="4" ry="3.5" transform="rotate(0 1580 470)" fill="none" stroke="#111" stroke-width="1.49"/>
<path d="M1602.0 450.0 L1604.0 465.0" fill="none" stroke="#111" stroke-width="2.53" stroke-linejoin="round" stroke-linecap="round"/>
<path d="M1575.2 468.9 L1573.0 483.0 L1584.0 487.0" fill="none" stroke="#111" stroke-width="1.49" stroke-linejoin="round" stroke-linecap="round"/>
<circle cx="1588" cy="425" r="2.4" fill="#111"/>
<ellipse cx="1581" cy="434" rx="3.5" ry="3.5" transform="rotate(0 1581 434)" fill="none" stroke="#111" stroke-width="1.61"/>
</g>
<text class="l" x="1184.4" y="334.0" font-size="30.7" textLength="272.9" lengthAdjust="spacingAndGlyphs" >内置控制中回一体阀</text>
<circle cx="1506.7" cy="426.7" r="2.8" fill="#111"/>
<path d="M1184.4 338.3 L1462.5 338.3 L1506.7 426.7" fill="none" stroke="#555" stroke-width="1.2"/>
<text class="l" x="1262.0" y="372.6" font-size="29.7" textLength="119.2" lengthAdjust="spacingAndGlyphs" >回转马达</text>
<path d="M1262.0 377.0 L1385.4 377.0 L1420.8 420.2" fill="none" stroke="#555" stroke-width="1.2"/>
<text class="l" x="1230.2" y="431.9" font-size="30.7" textLength="119.8" lengthAdjust="spacingAndGlyphs" >润滑油箱</text>
<circle cx="1425.8" cy="493.1" r="2.8" fill="#111"/>
<path d="M1230.2 435.8 L1355.2 435.8 L1425.8 493.1" fill="none" stroke="#555" stroke-width="1.2"/>
<text class="l" x="1125.0" y="480.9" font-size="29.5" textLength="120.8" lengthAdjust="spacingAndGlyphs" >激光标定</text>
<path d="M1125.0 485.4 L1252.0 485.4 L1376.0 533.0" fill="none" stroke="#555" stroke-width="1.2"/>
<text class="l" x="1143.8" y="543.6" font-size="28.4" textLength="148.5" lengthAdjust="spacingAndGlyphs" >内置锯套件</text>
<circle cx="1394" cy="579.8" r="2.8" fill="#111"/>
<path d="M1142.2 547.5 L1297.8 547.5 L1394.0 579.8" fill="none" stroke="#555" stroke-width="1.2"/>
<text class="l" x="1062.5" y="624.8" font-size="30.2" textLength="184.5" lengthAdjust="spacingAndGlyphs" >夹爪（外爪）</text>
<circle cx="1296" cy="584.7" r="2.8" fill="#111"/>
<path d="M1062.5 628.8 L1251.6 628.8 L1296.0 584.7" fill="none" stroke="#555" stroke-width="1.2"/>
<text class="l" x="1292.2" y="726.2" font-size="30.0" textLength="87.5" lengthAdjust="spacingAndGlyphs" >锯导板</text>
<circle cx="1445.3" cy="745.3" r="2.8" fill="#111"/>
<path d="M1293.0 731.2 L1387.5 731.2 L1445.3 745.3" fill="none" stroke="#555" stroke-width="1.2"/>
<text class="l" x="1512.5" y="773.2" font-size="30.2" textLength="89.1" lengthAdjust="spacingAndGlyphs" >锯护罩</text>
<circle cx="1486.9" cy="643.2" r="2.8" fill="#111"/>
<path d="M1601.6 777.5 L1507.8 777.5 L1486.9 643.2" fill="none" stroke="#555" stroke-width="1.2"/>
<text class="l" x="1675.7" y="345.4" font-size="30.5" textLength="119.5" lengthAdjust="spacingAndGlyphs" >信息铭牌</text>
<path d="M1795.2 349.6 L1671.0 349.6 L1624.0 395.0" fill="none" stroke="#555" stroke-width="1.2"/>
<text class="l" x="1675.7" y="381.5" font-size="29.4" textLength="88.0" lengthAdjust="spacingAndGlyphs" >马拉头</text>
<circle cx="1598" cy="432.4" r="2.8" fill="#111"/>
<path d="M1763.7 386.1 L1669.3 386.1 L1598.0 432.4" fill="none" stroke="#555" stroke-width="1.2"/>
<text class="l" x="1675.7" y="431.5" font-size="30.5" textLength="119.5" lengthAdjust="spacingAndGlyphs" >管道护板</text>
<path d="M1795.2 435.6 L1669.3 435.6 L1611.9 463.0" fill="none" stroke="#555" stroke-width="1.2"/>
<text class="l" x="1683.7" y="470.4" font-size="29.4" textLength="179.1" lengthAdjust="spacingAndGlyphs" >内置回转支承</text>
<circle cx="1544.6" cy="526.1" r="2.8" fill="#111"/>
<path d="M1862.8 475.0 L1675.7 475.0 L1544.6 526.1" fill="none" stroke="#555" stroke-width="1.2"/>
<text class="l" x="1679.2" y="512.9" font-size="30.2" textLength="57.5" lengthAdjust="spacingAndGlyphs" >支架</text>
<circle cx="1558.5" cy="541.8" r="2.8" fill="#111"/>
<path d="M1736.7 515.8 L1679.2 515.8 L1558.5 541.8" fill="none" stroke="#555" stroke-width="1.2"/>
<text class="l" x="1675.0" y="548.6" font-size="31.0" textLength="88.3" lengthAdjust="spacingAndGlyphs" >拍木板</text>
<circle cx="1619.9" cy="573.1" r="2.8" fill="#111"/>
<path d="M1763.3 552.6 L1670.7 552.6 L1619.9 573.1" fill="none" stroke="#555" stroke-width="1.2"/>
<text class="l" x="1658.0" y="591.2" font-size="29.7" textLength="119.2" lengthAdjust="spacingAndGlyphs" >夹持油缸</text>
<circle cx="1561.5" cy="616.9" r="2.8" fill="#111"/>
<path d="M1777.2 594.5 L1656.9 594.5 L1561.5 616.9" fill="none" stroke="#555" stroke-width="1.2"/>
<text class="l" x="1694.1" y="674.7" font-size="30.2" textLength="183.9" lengthAdjust="spacingAndGlyphs" >夹爪（内爪）</text>
<circle cx="1652.2" cy="711.1" r="2.8" fill="#111"/>
<path d="M1874.7 679.0 L1688.8 679.0 L1652.2 711.1" fill="none" stroke="#555" stroke-width="1.2"/>
</svg></body></html>
